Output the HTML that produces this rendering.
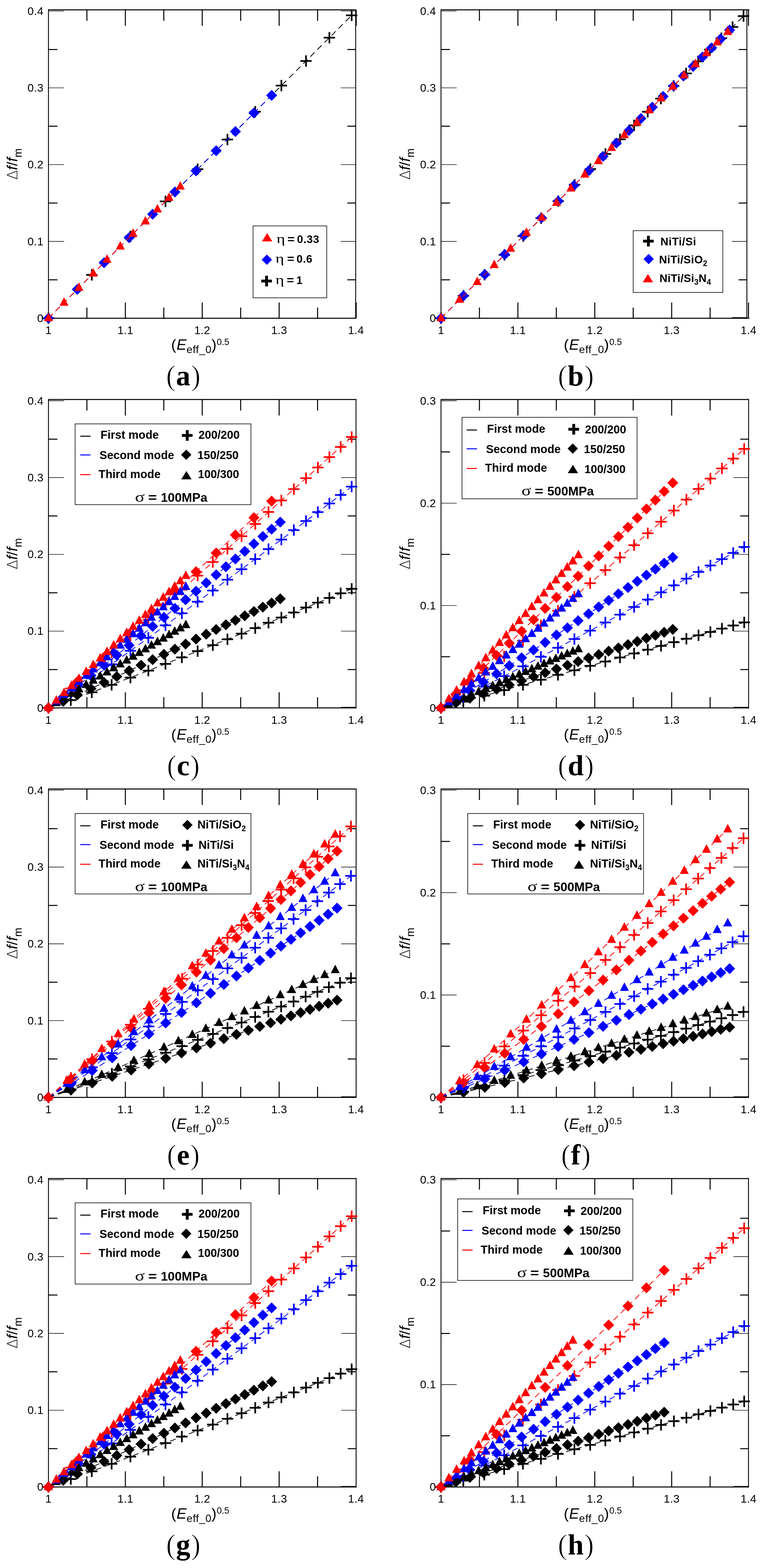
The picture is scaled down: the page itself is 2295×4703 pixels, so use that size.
<!DOCTYPE html><html><head><meta charset="utf-8"><title>Figure</title><style>
html,body{margin:0;padding:0;background:#fff;}svg{display:block;}
.tl{font-family:"Liberation Sans",Arial,sans-serif;font-size:33.6px;letter-spacing:0.4px;fill:#000;}
.at{font-family:"Liberation Sans",Arial,sans-serif;font-size:45px;fill:#000;}
.pl{font-family:"Liberation Serif","Times New Roman",serif;font-size:80px;fill:#000;}
.lg{font-family:"Liberation Sans",Arial,sans-serif;font-size:33px;font-weight:bold;fill:#000;}.lg2{font-size:34.2px;}
.gr{font-family:"Liberation Serif","DejaVu Serif",serif;font-weight:normal;}
</style></head><body>
<svg width="2295" height="4703" viewBox="0 0 2295 4703">
<rect width="2295" height="4703" fill="#fff"/>
<path d="M145.4 954.4H1068.3M145.4 29.4H1068.3" stroke="#000" stroke-width="3" fill="none"/>
<path d="M145.4 27.9V955.9M1067 27.9V955.9" stroke="#000" stroke-width="2.6" fill="none"/>
<path d="M376.1 954.4v-47M376.1 29.4v48M606.7 954.4v-47M606.7 29.4v48M837.4 954.4v-47M837.4 29.4v48M1068.5 954.4v-47M1068.5 29.4v48M260.7 954.4v-32M260.7 29.4v33M491.4 954.4v-32M491.4 29.4v33M722 954.4v-32M722 29.4v33M952.7 954.4v-32M952.7 29.4v33" stroke="#000" stroke-width="3" fill="none"/>
<path d="M145.4 954.4h47M145.4 724.1h47M145.4 493.8h47M145.4 263.5h47M145.4 33.2h47M1067 724.1h-45M1067 493.8h-45M1067 263.5h-45M1067 33.2h-45" stroke="#000" stroke-width="1.6" fill="none"/>
<path d="M145.4 839.2h27M145.4 608.9h27M145.4 378.6h27M145.4 148.4h27M1067 839.2h-25M1067 608.9h-25M1067 378.6h-25M1067 148.4h-25" stroke="#000" stroke-width="3" fill="none"/>
<g class="tl"><text x="145.4" y="1001.6" text-anchor="middle">1</text><text x="376.1" y="1001.6" text-anchor="middle">1.1</text><text x="606.7" y="1001.6" text-anchor="middle">1.2</text><text x="837.4" y="1001.6" text-anchor="middle">1.3</text><text x="1068" y="1001.6" text-anchor="middle">1.4</text><text x="130.5" y="965.8" text-anchor="end">0</text><text x="130.5" y="735.5" text-anchor="end">0.1</text><text x="130.5" y="505.2" text-anchor="end">0.2</text><text x="130.5" y="274.9" text-anchor="end">0.3</text><text x="130.5" y="44.6" text-anchor="end">0.4</text></g>
<text class="at" y="1049"><tspan x="513.6">(</tspan><tspan x="529.7" font-style="italic">E</tspan><tspan x="559.5" y="1059" font-size="32" letter-spacing="1.0">eff_0</tspan><tspan x="634.5" y="1049">)</tspan><tspan x="650.3" y="1034.6" font-size="27">0.5</tspan></text>
<text class="at" transform="translate(52.3 492) rotate(-90)" text-anchor="middle"><tspan font-family="DejaVu Sans" font-weight="200" font-size="42">&#916;</tspan><tspan font-style="italic">f</tspan>/<tspan font-style="italic">f</tspan><tspan font-size="33" dy="12.5">m</tspan></text>
<text class="pl" x="550" y="1156" text-anchor="middle"><tspan font-size="86" stroke="#fff" stroke-width="1.6">(</tspan><tspan font-weight="bold" font-size="86" dx="1">a</tspan><tspan font-size="86" dx="2" stroke="#fff" stroke-width="1.6">)</tspan></text>
<path d="M1323 954.4H2248M1323 29.4H2248" stroke="#000" stroke-width="3" fill="none"/>
<path d="M1323 27.9V955.9M2240.7 27.9V955.9" stroke="#000" stroke-width="2.6" fill="none"/>
<path d="M1553.7 954.4v-47M1553.7 29.4v48M1784.3 954.4v-47M1784.3 29.4v48M2015 954.4v-47M2015 29.4v48M2245.5 954.4v-47M2245.5 29.4v48M1438.3 954.4v-32M1438.3 29.4v33M1669 954.4v-32M1669 29.4v33M1899.6 954.4v-32M1899.6 29.4v33M2130.3 954.4v-32M2130.3 29.4v33" stroke="#000" stroke-width="3" fill="none"/>
<path d="M1323 954.4h47M1323 724.1h47M1323 493.8h47M1323 263.5h47M1323 33.2h47M2240.7 724.1h-45M2240.7 493.8h-45M2240.7 263.5h-45M2240.7 952.2h-45" stroke="#000" stroke-width="1.6" fill="none"/>
<path d="M1323 839.2h27M1323 608.9h27M1323 378.6h27M1323 148.4h27M2240.7 839.2h-25M2240.7 608.9h-25M2240.7 378.6h-25M2240.7 148.4h-25" stroke="#000" stroke-width="3" fill="none"/>
<g class="tl"><text x="1323" y="1001.6" text-anchor="middle">1</text><text x="1553.7" y="1001.6" text-anchor="middle">1.1</text><text x="1784.3" y="1001.6" text-anchor="middle">1.2</text><text x="2015" y="1001.6" text-anchor="middle">1.3</text><text x="2245.6" y="1001.6" text-anchor="middle">1.4</text><text x="1308.1" y="965.8" text-anchor="end">0</text><text x="1308.1" y="735.5" text-anchor="end">0.1</text><text x="1308.1" y="505.2" text-anchor="end">0.2</text><text x="1308.1" y="274.9" text-anchor="end">0.3</text><text x="1308.1" y="44.6" text-anchor="end">0.4</text></g>
<text class="at" y="1049"><tspan x="1691.2">(</tspan><tspan x="1707.3" font-style="italic">E</tspan><tspan x="1737.1" y="1059" font-size="32" letter-spacing="1.0">eff_0</tspan><tspan x="1812.1" y="1049">)</tspan><tspan x="1827.9" y="1034.6" font-size="27">0.5</tspan></text>
<text class="at" transform="translate(1229.9 492) rotate(-90)" text-anchor="middle"><tspan font-family="DejaVu Sans" font-weight="200" font-size="42">&#916;</tspan><tspan font-style="italic">f</tspan>/<tspan font-style="italic">f</tspan><tspan font-size="33" dy="12.5">m</tspan></text>
<text class="pl" x="1727.6" y="1156" text-anchor="middle"><tspan font-size="86" stroke="#fff" stroke-width="1.6">(</tspan><tspan font-weight="bold" font-size="86" dx="1">b</tspan><tspan font-size="86" dx="2" stroke="#fff" stroke-width="1.6">)</tspan></text>
<path d="M145.4 2123.3H1069.3M145.4 1198.3H1069.3" stroke="#000" stroke-width="3" fill="none"/>
<path d="M145.4 1196.8V2124.8M1068 1196.8V2124.8" stroke="#000" stroke-width="2.6" fill="none"/>
<path d="M376.1 2123.3v-47M376.1 1198.3v48M606.7 2123.3v-47M606.7 1198.3v48M837.4 2123.3v-47M837.4 1198.3v48M260.7 2123.3v-32M260.7 1198.3v33M491.4 2123.3v-32M491.4 1198.3v33M722 2123.3v-32M722 1198.3v33M952.7 2123.3v-32M952.7 1198.3v33" stroke="#000" stroke-width="3" fill="none"/>
<path d="M145.4 2123.3h47M145.4 1893h47M145.4 1662.7h47M145.4 1432.4h47M145.4 1202.1h47M1068 1893h-45M1068 1662.7h-45M1068 1432.4h-45M1068 2121.1h-45" stroke="#000" stroke-width="1.6" fill="none"/>
<path d="M145.4 2008.2h27M145.4 1777.9h27M145.4 1547.6h27M145.4 1317.3h27M1068 2008.2h-25M1068 1777.9h-25M1068 1547.6h-25M1068 1317.3h-25" stroke="#000" stroke-width="3" fill="none"/>
<g class="tl"><text x="145.4" y="2170.5" text-anchor="middle">1</text><text x="376.1" y="2170.5" text-anchor="middle">1.1</text><text x="606.7" y="2170.5" text-anchor="middle">1.2</text><text x="837.4" y="2170.5" text-anchor="middle">1.3</text><text x="1068" y="2170.5" text-anchor="middle">1.4</text><text x="130.5" y="2134.7" text-anchor="end">0</text><text x="130.5" y="1904.4" text-anchor="end">0.1</text><text x="130.5" y="1674.1" text-anchor="end">0.2</text><text x="130.5" y="1443.8" text-anchor="end">0.3</text><text x="130.5" y="1213.5" text-anchor="end">0.4</text></g>
<text class="at" y="2217.9"><tspan x="513.6">(</tspan><tspan x="529.7" font-style="italic">E</tspan><tspan x="559.5" y="2227.9" font-size="32" letter-spacing="1.0">eff_0</tspan><tspan x="634.5" y="2217.9">)</tspan><tspan x="650.3" y="2203.5" font-size="27">0.5</tspan></text>
<text class="at" transform="translate(52.3 1660.9) rotate(-90)" text-anchor="middle"><tspan font-family="DejaVu Sans" font-weight="200" font-size="42">&#916;</tspan><tspan font-style="italic">f</tspan>/<tspan font-style="italic">f</tspan><tspan font-size="33" dy="12.5">m</tspan></text>
<text class="pl" x="550" y="2324.9" text-anchor="middle"><tspan font-size="86" stroke="#fff" stroke-width="1.6">(</tspan><tspan font-weight="bold" font-size="86" dx="1">c</tspan><tspan font-size="86" dx="2" stroke="#fff" stroke-width="1.6">)</tspan></text>
<path d="M1323 2123.3H2247.1M1323 1198.3H2247.1" stroke="#000" stroke-width="3" fill="none"/>
<path d="M1323 1196.8V2124.8M2245.8 1196.8V2124.8" stroke="#000" stroke-width="2.6" fill="none"/>
<path d="M1553.7 2123.3v-47M1553.7 1198.3v48M1784.3 2123.3v-47M1784.3 1198.3v48M2015 2123.3v-47M2015 1198.3v48M1438.3 2123.3v-32M1438.3 1198.3v33M1669 2123.3v-32M1669 1198.3v33M1899.6 2123.3v-32M1899.6 1198.3v33M2130.3 2123.3v-32M2130.3 1198.3v33" stroke="#000" stroke-width="3" fill="none"/>
<path d="M1323 2123.3h47M1323 1816.2h47M1323 1509.2h47M1323 1202.1h47M2245.8 1893h-45M2245.8 1662.7h-45M2245.8 1432.4h-45M2245.8 2121.1h-45" stroke="#000" stroke-width="1.6" fill="none"/>
<path d="M1323 1969.8h27M1323 1662.7h27M1323 1355.6h27M2245.8 2008.2h-25M2245.8 1777.9h-25M2245.8 1547.6h-25M2245.8 1317.3h-25" stroke="#000" stroke-width="3" fill="none"/>
<g class="tl"><text x="1323" y="2170.5" text-anchor="middle">1</text><text x="1553.7" y="2170.5" text-anchor="middle">1.1</text><text x="1784.3" y="2170.5" text-anchor="middle">1.2</text><text x="2015" y="2170.5" text-anchor="middle">1.3</text><text x="2245.6" y="2170.5" text-anchor="middle">1.4</text><text x="1308.1" y="2134.7" text-anchor="end">0</text><text x="1308.1" y="1827.6" text-anchor="end">0.1</text><text x="1308.1" y="1520.6" text-anchor="end">0.2</text><text x="1308.1" y="1213.5" text-anchor="end">0.3</text></g>
<text class="at" y="2217.9"><tspan x="1691.2">(</tspan><tspan x="1707.3" font-style="italic">E</tspan><tspan x="1737.1" y="2227.9" font-size="32" letter-spacing="1.0">eff_0</tspan><tspan x="1812.1" y="2217.9">)</tspan><tspan x="1827.9" y="2203.5" font-size="27">0.5</tspan></text>
<text class="at" transform="translate(1229.9 1660.9) rotate(-90)" text-anchor="middle"><tspan font-family="DejaVu Sans" font-weight="200" font-size="42">&#916;</tspan><tspan font-style="italic">f</tspan>/<tspan font-style="italic">f</tspan><tspan font-size="33" dy="12.5">m</tspan></text>
<text class="pl" x="1727.6" y="2324.9" text-anchor="middle"><tspan font-size="86" stroke="#fff" stroke-width="1.6">(</tspan><tspan font-weight="bold" font-size="86" dx="1">d</tspan><tspan font-size="86" dx="2" stroke="#fff" stroke-width="1.6">)</tspan></text>
<path d="M145.4 3291.5H1069.6M145.4 2366.5H1069.6" stroke="#000" stroke-width="3" fill="none"/>
<path d="M145.4 2365V3293M1068.3 2365V3293" stroke="#000" stroke-width="2.6" fill="none"/>
<path d="M376.1 3291.5v-47M376.1 2366.5v48M606.7 3291.5v-47M606.7 2366.5v48M837.4 3291.5v-47M837.4 2366.5v48M260.7 3291.5v-32M260.7 2366.5v33M491.4 3291.5v-32M491.4 2366.5v33M722 3291.5v-32M722 2366.5v33M952.7 3291.5v-32M952.7 2366.5v33" stroke="#000" stroke-width="3" fill="none"/>
<path d="M145.4 3291.5h47M145.4 3061.2h47M145.4 2830.9h47M145.4 2600.6h47M145.4 2370.3h47M1068.3 3061.2h-45M1068.3 2830.9h-45M1068.3 2600.6h-45M1068.3 3289.3h-45" stroke="#000" stroke-width="1.6" fill="none"/>
<path d="M145.4 3176.3h27M145.4 2946.1h27M145.4 2715.8h27M145.4 2485.4h27M1068.3 3176.3h-25M1068.3 2946.1h-25M1068.3 2715.8h-25M1068.3 2485.4h-25" stroke="#000" stroke-width="3" fill="none"/>
<g class="tl"><text x="145.4" y="3338.7" text-anchor="middle">1</text><text x="376.1" y="3338.7" text-anchor="middle">1.1</text><text x="606.7" y="3338.7" text-anchor="middle">1.2</text><text x="837.4" y="3338.7" text-anchor="middle">1.3</text><text x="1068" y="3338.7" text-anchor="middle">1.4</text><text x="130.5" y="3302.9" text-anchor="end">0</text><text x="130.5" y="3072.6" text-anchor="end">0.1</text><text x="130.5" y="2842.3" text-anchor="end">0.2</text><text x="130.5" y="2612" text-anchor="end">0.3</text><text x="130.5" y="2381.7" text-anchor="end">0.4</text></g>
<text class="at" y="3386.1"><tspan x="513.6">(</tspan><tspan x="529.7" font-style="italic">E</tspan><tspan x="559.5" y="3396.1" font-size="32" letter-spacing="1.0">eff_0</tspan><tspan x="634.5" y="3386.1">)</tspan><tspan x="650.3" y="3371.7" font-size="27">0.5</tspan></text>
<text class="at" transform="translate(52.3 2829.1) rotate(-90)" text-anchor="middle"><tspan font-family="DejaVu Sans" font-weight="200" font-size="42">&#916;</tspan><tspan font-style="italic">f</tspan>/<tspan font-style="italic">f</tspan><tspan font-size="33" dy="12.5">m</tspan></text>
<text class="pl" x="550" y="3493.1" text-anchor="middle"><tspan font-size="86" stroke="#fff" stroke-width="1.6">(</tspan><tspan font-weight="bold" font-size="86" dx="1">e</tspan><tspan font-size="86" dx="2" stroke="#fff" stroke-width="1.6">)</tspan></text>
<path d="M1323 3291.5H2246.9M1323 2366.5H2246.9" stroke="#000" stroke-width="3" fill="none"/>
<path d="M1323 2365V3293M2245.6 2365V3293" stroke="#000" stroke-width="2.6" fill="none"/>
<path d="M1553.7 3291.5v-47M1553.7 2366.5v48M1784.3 3291.5v-47M1784.3 2366.5v48M2015 3291.5v-47M2015 2366.5v48M1438.3 3291.5v-32M1438.3 2366.5v33M1669 3291.5v-32M1669 2366.5v33M1899.6 3291.5v-32M1899.6 2366.5v33M2130.3 3291.5v-32M2130.3 2366.5v33" stroke="#000" stroke-width="3" fill="none"/>
<path d="M1323 3291.5h47M1323 2984.4h47M1323 2677.4h47M1323 2370.3h47M2245.6 3061.2h-45M2245.6 2830.9h-45M2245.6 2600.6h-45M2245.6 3289.3h-45" stroke="#000" stroke-width="1.6" fill="none"/>
<path d="M1323 3138h27M1323 2830.9h27M1323 2523.8h27M2245.6 3176.3h-25M2245.6 2946.1h-25M2245.6 2715.8h-25M2245.6 2485.4h-25" stroke="#000" stroke-width="3" fill="none"/>
<g class="tl"><text x="1323" y="3338.7" text-anchor="middle">1</text><text x="1553.7" y="3338.7" text-anchor="middle">1.1</text><text x="1784.3" y="3338.7" text-anchor="middle">1.2</text><text x="2015" y="3338.7" text-anchor="middle">1.3</text><text x="2245.6" y="3338.7" text-anchor="middle">1.4</text><text x="1308.1" y="3302.9" text-anchor="end">0</text><text x="1308.1" y="2995.8" text-anchor="end">0.1</text><text x="1308.1" y="2688.8" text-anchor="end">0.2</text><text x="1308.1" y="2381.7" text-anchor="end">0.3</text></g>
<text class="at" y="3386.1"><tspan x="1691.2">(</tspan><tspan x="1707.3" font-style="italic">E</tspan><tspan x="1737.1" y="3396.1" font-size="32" letter-spacing="1.0">eff_0</tspan><tspan x="1812.1" y="3386.1">)</tspan><tspan x="1827.9" y="3371.7" font-size="27">0.5</tspan></text>
<text class="at" transform="translate(1229.9 2829.1) rotate(-90)" text-anchor="middle"><tspan font-family="DejaVu Sans" font-weight="200" font-size="42">&#916;</tspan><tspan font-style="italic">f</tspan>/<tspan font-style="italic">f</tspan><tspan font-size="33" dy="12.5">m</tspan></text>
<text class="pl" x="1727.6" y="3493.1" text-anchor="middle"><tspan font-size="86" stroke="#fff" stroke-width="1.6">(</tspan><tspan font-weight="bold" font-size="86" dx="1">f</tspan><tspan font-size="86" dx="2" stroke="#fff" stroke-width="1.6">)</tspan></text>
<path d="M145.4 4460H1069.6M145.4 3535H1069.6" stroke="#000" stroke-width="3" fill="none"/>
<path d="M145.4 3533.5V4461.5M1068.3 3533.5V4461.5" stroke="#000" stroke-width="2.6" fill="none"/>
<path d="M376.1 4460v-47M376.1 3535v48M606.7 4460v-47M606.7 3535v48M837.4 4460v-47M837.4 3535v48M260.7 4460v-32M260.7 3535v33M491.4 4460v-32M491.4 3535v33M722 4460v-32M722 3535v33M952.7 4460v-32M952.7 3535v33" stroke="#000" stroke-width="3" fill="none"/>
<path d="M145.4 4460h47M145.4 4229.7h47M145.4 3999.4h47M145.4 3769.1h47M145.4 3538.8h47M1068.3 4229.7h-45M1068.3 3999.4h-45M1068.3 3769.1h-45M1068.3 4457.8h-45" stroke="#000" stroke-width="1.6" fill="none"/>
<path d="M145.4 4344.9h27M145.4 4114.6h27M145.4 3884.2h27M145.4 3653.9h27M1068.3 4344.9h-25M1068.3 4114.6h-25M1068.3 3884.2h-25M1068.3 3653.9h-25" stroke="#000" stroke-width="3" fill="none"/>
<g class="tl"><text x="145.4" y="4507.2" text-anchor="middle">1</text><text x="376.1" y="4507.2" text-anchor="middle">1.1</text><text x="606.7" y="4507.2" text-anchor="middle">1.2</text><text x="837.4" y="4507.2" text-anchor="middle">1.3</text><text x="1068" y="4507.2" text-anchor="middle">1.4</text><text x="130.5" y="4471.4" text-anchor="end">0</text><text x="130.5" y="4241.1" text-anchor="end">0.1</text><text x="130.5" y="4010.8" text-anchor="end">0.2</text><text x="130.5" y="3780.5" text-anchor="end">0.3</text><text x="130.5" y="3550.2" text-anchor="end">0.4</text></g>
<text class="at" y="4554.6"><tspan x="513.6">(</tspan><tspan x="529.7" font-style="italic">E</tspan><tspan x="559.5" y="4564.6" font-size="32" letter-spacing="1.0">eff_0</tspan><tspan x="634.5" y="4554.6">)</tspan><tspan x="650.3" y="4540.2" font-size="27">0.5</tspan></text>
<text class="at" transform="translate(52.3 3997.6) rotate(-90)" text-anchor="middle"><tspan font-family="DejaVu Sans" font-weight="200" font-size="42">&#916;</tspan><tspan font-style="italic">f</tspan>/<tspan font-style="italic">f</tspan><tspan font-size="33" dy="12.5">m</tspan></text>
<text class="pl" x="550" y="4661.6" text-anchor="middle"><tspan font-size="86" stroke="#fff" stroke-width="1.6">(</tspan><tspan font-weight="bold" font-size="86" dx="1">g</tspan><tspan font-size="86" dx="2" stroke="#fff" stroke-width="1.6">)</tspan></text>
<path d="M1323 4460H2246.7M1323 3535H2246.7" stroke="#000" stroke-width="3" fill="none"/>
<path d="M1323 3533.5V4461.5M2245.4 3533.5V4461.5" stroke="#000" stroke-width="2.6" fill="none"/>
<path d="M1553.7 4460v-47M1553.7 3535v48M1784.3 4460v-47M1784.3 3535v48M2015 4460v-47M2015 3535v48M1438.3 4460v-32M1438.3 3535v33M1669 4460v-32M1669 3535v33M1899.6 4460v-32M1899.6 3535v33M2130.3 4460v-32M2130.3 3535v33" stroke="#000" stroke-width="3" fill="none"/>
<path d="M1323 4460h47M1323 4152.9h47M1323 3845.9h47M1323 3538.8h47M2245.4 4229.7h-45M2245.4 3999.4h-45M2245.4 3769.1h-45M2245.4 4457.8h-45" stroke="#000" stroke-width="1.6" fill="none"/>
<path d="M1323 4306.5h27M1323 3999.4h27M1323 3692.3h27M2245.4 4344.9h-25M2245.4 4114.6h-25M2245.4 3884.2h-25M2245.4 3653.9h-25" stroke="#000" stroke-width="3" fill="none"/>
<g class="tl"><text x="1323" y="4507.2" text-anchor="middle">1</text><text x="1553.7" y="4507.2" text-anchor="middle">1.1</text><text x="1784.3" y="4507.2" text-anchor="middle">1.2</text><text x="2015" y="4507.2" text-anchor="middle">1.3</text><text x="2245.6" y="4507.2" text-anchor="middle">1.4</text><text x="1308.1" y="4471.4" text-anchor="end">0</text><text x="1308.1" y="4164.3" text-anchor="end">0.1</text><text x="1308.1" y="3857.3" text-anchor="end">0.2</text><text x="1308.1" y="3550.2" text-anchor="end">0.3</text></g>
<text class="at" y="4554.6"><tspan x="1691.2">(</tspan><tspan x="1707.3" font-style="italic">E</tspan><tspan x="1737.1" y="4564.6" font-size="32" letter-spacing="1.0">eff_0</tspan><tspan x="1812.1" y="4554.6">)</tspan><tspan x="1827.9" y="4540.2" font-size="27">0.5</tspan></text>
<text class="at" transform="translate(1229.9 3997.6) rotate(-90)" text-anchor="middle"><tspan font-family="DejaVu Sans" font-weight="200" font-size="42">&#916;</tspan><tspan font-style="italic">f</tspan>/<tspan font-style="italic">f</tspan><tspan font-size="33" dy="12.5">m</tspan></text>
<text class="pl" x="1727.6" y="4661.6" text-anchor="middle"><tspan font-size="86" stroke="#fff" stroke-width="1.6">(</tspan><tspan font-weight="bold" font-size="86" dx="1">h</tspan><tspan font-size="86" dx="2" stroke="#fff" stroke-width="1.6">)</tspan></text>
<path d="M145.4 954.4L275.4 824.6L391.3 708.9L496.4 603.9L592.9 507.6L682.3 418.4L765.7 335.1L844.1 256.8L918 182.9L988.2 112.9L1055 46.1" stroke="#000000" stroke-width="2.3" fill="none" stroke-dasharray="18 12"/>
<path d="M128.4 954.4h34M145.4 937.4v34M258.4 824.6h34M275.4 807.6v34M374.3 708.9h34M391.3 691.9v34M479.4 603.9h34M496.4 586.9v34M575.9 507.6h34M592.9 490.6v34M665.3 418.4h34M682.3 401.4v34M748.7 335.1h34M765.7 318.1v34M827.1 256.8h34M844.1 239.8v34M901 182.9h34M918 165.9v34M971.2 112.9h34M988.2 95.9v34M1038 46.1h34M1055 29.1v34" stroke="#000000" stroke-width="5" fill="none"/>
<path d="M145.4 954.4L231.9 868L312.2 787.9L387.3 712.9L457.9 642.4L524.7 575.7L588.1 512.4L648.5 452.1L706.3 394.4L761.7 339.1L814.9 285.9" stroke="#0000ff" stroke-width="2.3" fill="none" stroke-dasharray="18 12"/>
<path d="M145.4 937.9l16.5 16.5l-16.5 16.5l-16.5 -16.5zM231.9 851.5l16.5 16.5l-16.5 16.5l-16.5 -16.5zM312.2 771.4l16.5 16.5l-16.5 16.5l-16.5 -16.5zM387.3 696.4l16.5 16.5l-16.5 16.5l-16.5 -16.5zM457.9 625.9l16.5 16.5l-16.5 16.5l-16.5 -16.5zM524.7 559.2l16.5 16.5l-16.5 16.5l-16.5 -16.5zM588.1 495.9l16.5 16.5l-16.5 16.5l-16.5 -16.5zM648.5 435.6l16.5 16.5l-16.5 16.5l-16.5 -16.5zM706.3 377.9l16.5 16.5l-16.5 16.5l-16.5 -16.5zM761.7 322.6l16.5 16.5l-16.5 16.5l-16.5 -16.5zM814.9 269.4l16.5 16.5l-16.5 16.5l-16.5 -16.5z" fill="#0000ff"/>
<path d="M145.4 954.4L192.1 907.7L236.8 863.1L279.7 820.3L321 779.1L360.8 739.4L399.2 701L436.3 664L472.3 628L507.2 593.2L541 559.4" stroke="#ff0000" stroke-width="2.3" fill="none" stroke-dasharray="18 12"/>
<path d="M131.9 963.6h27L145.4 938.1zM178.6 917h27L192.1 891.5zM223.3 872.4h27L236.8 846.9zM266.2 829.5h27L279.7 804zM307.5 788.3h27L321 762.8zM347.3 748.6h27L360.8 723.1zM385.7 710.3h27L399.2 684.8zM422.8 673.2h27L436.3 647.7zM458.8 637.3h27L472.3 611.8zM493.7 602.4h27L507.2 576.9zM527.5 568.6h27L541 543.1z" fill="#ff0000"/>
<path d="M1323 954.4L1390.4 887.1L1453.6 824L1513.2 764.5L1569.7 708.1L1623.5 654.4L1674.8 603.2L1723.9 554.1L1771 507.1L1816.4 461.8L1860.1 418.1L1902.3 376L1943.1 335.2L1982.7 295.7L2021 257.4L2058.3 220.2L2094.5 184L2129.8 148.8L2164.2 114.5L2197.7 81L2230.5 48.3" stroke="#000000" stroke-width="2.3" fill="none" stroke-dasharray="18 12"/>
<path d="M1306 954.4h34M1323 937.4v34M1373.4 887.1h34M1390.4 870.1v34M1436.6 824h34M1453.6 807v34M1496.2 764.5h34M1513.2 747.5v34M1552.7 708.1h34M1569.7 691.1v34M1606.5 654.4h34M1623.5 637.4v34M1657.8 603.2h34M1674.8 586.2v34M1706.9 554.1h34M1723.9 537.1v34M1754 507.1h34M1771 490.1v34M1799.4 461.8h34M1816.4 444.8v34M1843.1 418.1h34M1860.1 401.1v34M1885.3 376h34M1902.3 359v34M1926.1 335.2h34M1943.1 318.2v34M1965.7 295.7h34M1982.7 278.7v34M2004 257.4h34M2021 240.4v34M2041.3 220.2h34M2058.3 203.2v34M2077.5 184h34M2094.5 167v34M2112.8 148.8h34M2129.8 131.8v34M2147.2 114.5h34M2164.2 97.5v34M2180.7 81h34M2197.7 64v34M2213.5 48.3h34M2230.5 31.3v34" stroke="#000000" stroke-width="5" fill="none"/>
<path d="M1323 954.4L1390.5 887L1454.3 823.3L1514.3 763.3L1571 706.8L1624.4 653.5L1674.7 603.2L1722.2 555.8L1766.9 511.2L1809.2 469L1849.1 429.1L1886.9 391.4L1922.7 355.6L1956.8 321.5L1989.4 289.1L2020.5 258L2050.4 228.1L2079.4 199.2L2107.5 171.1L2135 143.6L2162 116.6L2188.8 89.9" stroke="#0000ff" stroke-width="2.3" fill="none" stroke-dasharray="18 12"/>
<path d="M1323 937.9l16.5 16.5l-16.5 16.5l-16.5 -16.5zM1390.5 870.5l16.5 16.5l-16.5 16.5l-16.5 -16.5zM1454.3 806.8l16.5 16.5l-16.5 16.5l-16.5 -16.5zM1514.3 746.8l16.5 16.5l-16.5 16.5l-16.5 -16.5zM1571 690.3l16.5 16.5l-16.5 16.5l-16.5 -16.5zM1624.4 637l16.5 16.5l-16.5 16.5l-16.5 -16.5zM1674.7 586.7l16.5 16.5l-16.5 16.5l-16.5 -16.5zM1722.2 539.3l16.5 16.5l-16.5 16.5l-16.5 -16.5zM1766.9 494.7l16.5 16.5l-16.5 16.5l-16.5 -16.5zM1809.2 452.5l16.5 16.5l-16.5 16.5l-16.5 -16.5zM1849.1 412.6l16.5 16.5l-16.5 16.5l-16.5 -16.5zM1886.9 374.9l16.5 16.5l-16.5 16.5l-16.5 -16.5zM1922.7 339.1l16.5 16.5l-16.5 16.5l-16.5 -16.5zM1956.8 305l16.5 16.5l-16.5 16.5l-16.5 -16.5zM1989.4 272.6l16.5 16.5l-16.5 16.5l-16.5 -16.5zM2020.5 241.5l16.5 16.5l-16.5 16.5l-16.5 -16.5zM2050.4 211.6l16.5 16.5l-16.5 16.5l-16.5 -16.5zM2079.4 182.7l16.5 16.5l-16.5 16.5l-16.5 -16.5zM2107.5 154.6l16.5 16.5l-16.5 16.5l-16.5 -16.5zM2135 127.1l16.5 16.5l-16.5 16.5l-16.5 -16.5zM2162 100.1l16.5 16.5l-16.5 16.5l-16.5 -16.5zM2188.8 73.4l16.5 16.5l-16.5 16.5l-16.5 -16.5z" fill="#0000ff"/>
<path d="M1323 954.4L1378.5 899L1431.7 845.9L1482.8 794.9L1532 745.8L1579.4 698.4L1625.2 652.6L1669.6 608.3L1712.7 565.3L1754.5 523.6L1795.1 483L1834.7 443.5L1873.2 405L1910.8 367.5L1947.5 330.8L1983.4 295L2018.4 260L2052.8 225.7L2086.4 192.2L2119.3 159.3L2151.6 127.1L2183.3 95.4" stroke="#ff0000" stroke-width="2.3" fill="none" stroke-dasharray="18 12"/>
<path d="M1309.5 963.6h27L1323 938.1zM1365 908.2h27L1378.5 882.7zM1418.2 855.1h27L1431.7 829.6zM1469.3 804.1h27L1482.8 778.6zM1518.5 755h27L1532 729.5zM1565.9 707.6h27L1579.4 682.1zM1611.7 661.9h27L1625.2 636.4zM1656.1 617.5h27L1669.6 592zM1699.2 574.6h27L1712.7 549.1zM1741 532.8h27L1754.5 507.3zM1781.6 492.3h27L1795.1 466.8zM1821.2 452.8h27L1834.7 427.3zM1859.7 414.3h27L1873.2 388.8zM1897.3 376.7h27L1910.8 351.2zM1934 340.1h27L1947.5 314.6zM1969.9 304.3h27L1983.4 278.8zM2004.9 269.3h27L2018.4 243.8zM2039.3 235h27L2052.8 209.5zM2072.9 201.4h27L2086.4 175.9zM2105.8 168.6h27L2119.3 143.1zM2138.1 136.3h27L2151.6 110.8zM2169.8 104.7h27L2183.3 79.2z" fill="#ff0000"/>
<path d="M145.4 2123.3L212.4 2099.9L275.4 2076.5L334.9 2054L391.3 2032.3L445.1 2011.4L496.4 1991.2L545.6 1971.8L592.9 1953.1L638.4 1935L682.3 1917.4L724.7 1900.4L765.7 1883.9L805.5 1867.8L844.1 1852.2L881.6 1837L918 1822.1L953.6 1807.6L988.2 1793.5L1022 1779.6L1055 1766.1" stroke="#000000" stroke-width="2.3" fill="none" stroke-dasharray="18 12"/>
<path d="M128.4 2123.3h34M145.4 2106.3v34M195.4 2099.9h34M212.4 2082.9v34M258.4 2076.5h34M275.4 2059.5v34M317.9 2054h34M334.9 2037v34M374.3 2032.3h34M391.3 2015.3v34M428.1 2011.4h34M445.1 1994.4v34M479.4 1991.2h34M496.4 1974.2v34M528.6 1971.8h34M545.6 1954.8v34M575.9 1953.1h34M592.9 1936.1v34M621.4 1935h34M638.4 1918v34M665.3 1917.4h34M682.3 1900.4v34M707.7 1900.4h34M724.7 1883.4v34M748.7 1883.9h34M765.7 1866.9v34M788.5 1867.8h34M805.5 1850.8v34M827.1 1852.2h34M844.1 1835.2v34M864.6 1837h34M881.6 1820v34M901 1822.1h34M918 1805.1v34M936.6 1807.6h34M953.6 1790.6v34M971.2 1793.5h34M988.2 1776.5v34M1005 1779.6h34M1022 1762.6v34M1038 1766.1h34M1055 1749.1v34" stroke="#000000" stroke-width="5" fill="none"/>
<path d="M145.4 2123.3L212.4 2078.7L275.4 2034.7L334.9 1992.4L391.3 1951.9L445.1 1913L496.4 1875.6L545.6 1839.5L592.9 1804.8L638.4 1771.2L682.3 1738.7L724.7 1707.3L765.7 1676.7L805.5 1647.1L844.1 1618.2L881.6 1590.1L918 1562.7L953.6 1536L988.2 1510L1022 1484.5L1055 1459.6" stroke="#0000ff" stroke-width="2.3" fill="none" stroke-dasharray="18 12"/>
<path d="M128.4 2123.3h34M145.4 2106.3v34M195.4 2078.7h34M212.4 2061.7v34M258.4 2034.7h34M275.4 2017.7v34M317.9 1992.4h34M334.9 1975.4v34M374.3 1951.9h34M391.3 1934.9v34M428.1 1913h34M445.1 1896v34M479.4 1875.6h34M496.4 1858.6v34M528.6 1839.5h34M545.6 1822.5v34M575.9 1804.8h34M592.9 1787.8v34M621.4 1771.2h34M638.4 1754.2v34M665.3 1738.7h34M682.3 1721.7v34M707.7 1707.3h34M724.7 1690.3v34M748.7 1676.7h34M765.7 1659.7v34M788.5 1647.1h34M805.5 1630.1v34M827.1 1618.2h34M844.1 1601.2v34M864.6 1590.1h34M881.6 1573.1v34M901 1562.7h34M918 1545.7v34M936.6 1536h34M953.6 1519v34M971.2 1510h34M988.2 1493v34M1005 1484.5h34M1022 1467.5v34M1038 1459.6h34M1055 1442.6v34" stroke="#0000ff" stroke-width="5" fill="none"/>
<path d="M145.4 2123.3L212.4 2065L275.4 2009.4L334.9 1956.7L391.3 1906.5L445.1 1858.6L496.4 1812.7L545.6 1768.7L592.9 1726.4L638.4 1685.7L682.3 1646.3L724.7 1608.2L765.7 1571.4L805.5 1535.6L844.1 1500.9L881.6 1467.1L918 1434.3L953.6 1402.3L988.2 1371L1022 1340.6L1055 1310.8" stroke="#ff0000" stroke-width="2.3" fill="none" stroke-dasharray="18 12"/>
<path d="M128.4 2123.3h34M145.4 2106.3v34M195.4 2065h34M212.4 2048v34M258.4 2009.4h34M275.4 1992.4v34M317.9 1956.7h34M334.9 1939.7v34M374.3 1906.5h34M391.3 1889.5v34M428.1 1858.6h34M445.1 1841.6v34M479.4 1812.7h34M496.4 1795.7v34M528.6 1768.7h34M545.6 1751.7v34M575.9 1726.4h34M592.9 1709.4v34M621.4 1685.7h34M638.4 1668.7v34M665.3 1646.3h34M682.3 1629.3v34M707.7 1608.2h34M724.7 1591.2v34M748.7 1571.4h34M765.7 1554.4v34M788.5 1535.6h34M805.5 1518.6v34M827.1 1500.9h34M844.1 1483.9v34M864.6 1467.1h34M881.6 1450.1v34M901 1434.3h34M918 1417.3v34M936.6 1402.3h34M953.6 1385.3v34M971.2 1371h34M988.2 1354v34M1005 1340.6h34M1022 1323.6v34M1038 1310.8h34M1055 1293.8v34" stroke="#ff0000" stroke-width="5" fill="none"/>
<path d="M145.4 2123.3L189.5 2103.7L231.9 2084.3L272.8 2065.4L312.2 2047L350.3 2029.2L387.3 2011.8L423.1 1995L457.9 1978.6L491.7 1962.6L524.7 1946.9L556.8 1931.7L588.1 1916.8L618.6 1902.3L648.5 1888L677.7 1874.1L706.3 1860.5L734.2 1847.1L761.7 1834L788.5 1821.1L814.9 1808.5L840.7 1796" stroke="#000000" stroke-width="2.3" fill="none" stroke-dasharray="18 12"/>
<path d="M145.4 2106.8l16.5 16.5l-16.5 16.5l-16.5 -16.5zM189.5 2087.2l16.5 16.5l-16.5 16.5l-16.5 -16.5zM231.9 2067.8l16.5 16.5l-16.5 16.5l-16.5 -16.5zM272.8 2048.9l16.5 16.5l-16.5 16.5l-16.5 -16.5zM312.2 2030.5l16.5 16.5l-16.5 16.5l-16.5 -16.5zM350.3 2012.7l16.5 16.5l-16.5 16.5l-16.5 -16.5zM387.3 1995.3l16.5 16.5l-16.5 16.5l-16.5 -16.5zM423.1 1978.5l16.5 16.5l-16.5 16.5l-16.5 -16.5zM457.9 1962.1l16.5 16.5l-16.5 16.5l-16.5 -16.5zM491.7 1946.1l16.5 16.5l-16.5 16.5l-16.5 -16.5zM524.7 1930.4l16.5 16.5l-16.5 16.5l-16.5 -16.5zM556.8 1915.2l16.5 16.5l-16.5 16.5l-16.5 -16.5zM588.1 1900.3l16.5 16.5l-16.5 16.5l-16.5 -16.5zM618.6 1885.8l16.5 16.5l-16.5 16.5l-16.5 -16.5zM648.5 1871.5l16.5 16.5l-16.5 16.5l-16.5 -16.5zM677.7 1857.6l16.5 16.5l-16.5 16.5l-16.5 -16.5zM706.3 1844l16.5 16.5l-16.5 16.5l-16.5 -16.5zM734.2 1830.6l16.5 16.5l-16.5 16.5l-16.5 -16.5zM761.7 1817.5l16.5 16.5l-16.5 16.5l-16.5 -16.5zM788.5 1804.6l16.5 16.5l-16.5 16.5l-16.5 -16.5zM814.9 1792l16.5 16.5l-16.5 16.5l-16.5 -16.5zM840.7 1779.5l16.5 16.5l-16.5 16.5l-16.5 -16.5z" fill="#000000"/>
<path d="M145.4 2123.3L189.5 2090.8L231.9 2058.2L272.8 2026.3L312.2 1995.2L350.3 1965L387.3 1935.5L423.1 1906.8L457.9 1878.8L491.7 1851.5L524.7 1824.8L556.8 1798.7L588.1 1773.3L618.6 1748.3L648.5 1724L677.7 1700.1L706.3 1676.6L734.2 1653.7L761.7 1631.2L788.5 1609L814.9 1587.3L840.7 1566" stroke="#0000ff" stroke-width="2.3" fill="none" stroke-dasharray="18 12"/>
<path d="M145.4 2106.8l16.5 16.5l-16.5 16.5l-16.5 -16.5zM189.5 2074.3l16.5 16.5l-16.5 16.5l-16.5 -16.5zM231.9 2041.7l16.5 16.5l-16.5 16.5l-16.5 -16.5zM272.8 2009.8l16.5 16.5l-16.5 16.5l-16.5 -16.5zM312.2 1978.7l16.5 16.5l-16.5 16.5l-16.5 -16.5zM350.3 1948.5l16.5 16.5l-16.5 16.5l-16.5 -16.5zM387.3 1919l16.5 16.5l-16.5 16.5l-16.5 -16.5zM423.1 1890.3l16.5 16.5l-16.5 16.5l-16.5 -16.5zM457.9 1862.3l16.5 16.5l-16.5 16.5l-16.5 -16.5zM491.7 1835l16.5 16.5l-16.5 16.5l-16.5 -16.5zM524.7 1808.3l16.5 16.5l-16.5 16.5l-16.5 -16.5zM556.8 1782.2l16.5 16.5l-16.5 16.5l-16.5 -16.5zM588.1 1756.8l16.5 16.5l-16.5 16.5l-16.5 -16.5zM618.6 1731.8l16.5 16.5l-16.5 16.5l-16.5 -16.5zM648.5 1707.5l16.5 16.5l-16.5 16.5l-16.5 -16.5zM677.7 1683.6l16.5 16.5l-16.5 16.5l-16.5 -16.5zM706.3 1660.1l16.5 16.5l-16.5 16.5l-16.5 -16.5zM734.2 1637.2l16.5 16.5l-16.5 16.5l-16.5 -16.5zM761.7 1614.7l16.5 16.5l-16.5 16.5l-16.5 -16.5zM788.5 1592.5l16.5 16.5l-16.5 16.5l-16.5 -16.5zM814.9 1570.8l16.5 16.5l-16.5 16.5l-16.5 -16.5zM840.7 1549.5l16.5 16.5l-16.5 16.5l-16.5 -16.5z" fill="#0000ff"/>
<path d="M145.4 2123.3L231.9 2044.8L312.2 1970.9L387.3 1901.4L457.9 1835.9L524.7 1773.8L588.1 1714.7L648.5 1658.4L706.3 1604.4L761.7 1552.7L814.9 1502.9" stroke="#ff0000" stroke-width="2.3" fill="none" stroke-dasharray="18 12"/>
<path d="M145.4 2106.8l16.5 16.5l-16.5 16.5l-16.5 -16.5zM231.9 2028.3l16.5 16.5l-16.5 16.5l-16.5 -16.5zM312.2 1954.4l16.5 16.5l-16.5 16.5l-16.5 -16.5zM387.3 1884.9l16.5 16.5l-16.5 16.5l-16.5 -16.5zM457.9 1819.4l16.5 16.5l-16.5 16.5l-16.5 -16.5zM524.7 1757.3l16.5 16.5l-16.5 16.5l-16.5 -16.5zM588.1 1698.2l16.5 16.5l-16.5 16.5l-16.5 -16.5zM648.5 1641.9l16.5 16.5l-16.5 16.5l-16.5 -16.5zM706.3 1587.9l16.5 16.5l-16.5 16.5l-16.5 -16.5zM761.7 1536.2l16.5 16.5l-16.5 16.5l-16.5 -16.5zM814.9 1486.4l16.5 16.5l-16.5 16.5l-16.5 -16.5z" fill="#ff0000"/>
<path d="M145.4 2123.3L169 2108.6L192.1 2094.5L214.7 2080.7L236.8 2067.3L258.5 2054.2L279.7 2041.3L300.6 2028.8L321 2016.5L341.1 2004.4L360.8 1992.5L380.1 1980.9L399.2 1969.5L417.9 1958.2L436.3 1947.2L454.4 1936.3L472.3 1925.7L489.8 1915.1L507.2 1904.8L524.2 1894.6L541 1884.5L557.6 1874.6" stroke="#000000" stroke-width="2.3" fill="none" stroke-dasharray="18 12"/>
<path d="M131.9 2132.6h27L145.4 2107.1zM155.5 2117.9h27L169 2092.4zM178.6 2103.7h27L192.1 2078.2zM201.2 2090h27L214.7 2064.5zM223.3 2076.6h27L236.8 2051.1zM245 2063.4h27L258.5 2037.9zM266.2 2050.6h27L279.7 2025.1zM287.1 2038h27L300.6 2012.5zM307.5 2025.7h27L321 2000.2zM327.6 2013.6h27L341.1 1988.1zM347.3 2001.8h27L360.8 1976.3zM366.6 1990.2h27L380.1 1964.7zM385.7 1978.7h27L399.2 1953.2zM404.4 1967.5h27L417.9 1942zM422.8 1956.5h27L436.3 1931zM440.9 1945.6h27L454.4 1920.1zM458.8 1934.9h27L472.3 1909.4zM476.3 1924.4h27L489.8 1898.9zM493.7 1914h27L507.2 1888.5zM510.7 1903.8h27L524.2 1878.3zM527.5 1893.8h27L541 1868.3zM544.1 1883.9h27L557.6 1858.4z" fill="#000000"/>
<path d="M145.4 2123.3L169 2103.7L192.1 2083.9L214.7 2064.4L236.8 2045.2L258.5 2026.3L279.7 2007.7L300.6 1989.3L321 1971.3L341.1 1953.6L360.8 1936.1L380.1 1919L399.2 1902.1L417.9 1885.4L436.3 1869L454.4 1852.8L472.3 1836.9L489.8 1821.2L507.2 1805.7L524.2 1790.4L541 1775.3L557.6 1760.4" stroke="#0000ff" stroke-width="2.3" fill="none" stroke-dasharray="18 12"/>
<path d="M131.9 2132.6h27L145.4 2107.1zM155.5 2112.9h27L169 2087.4zM178.6 2093.2h27L192.1 2067.7zM201.2 2073.7h27L214.7 2048.2zM223.3 2054.4h27L236.8 2028.9zM245 2035.5h27L258.5 2010zM266.2 2016.9h27L279.7 1991.4zM287.1 1998.6h27L300.6 1973.1zM307.5 1980.6h27L321 1955.1zM327.6 1962.8h27L341.1 1937.3zM347.3 1945.4h27L360.8 1919.9zM366.6 1928.2h27L380.1 1902.7zM385.7 1911.3h27L399.2 1885.8zM404.4 1894.7h27L417.9 1869.2zM422.8 1878.2h27L436.3 1852.7zM440.9 1862.1h27L454.4 1836.6zM458.8 1846.1h27L472.3 1820.6zM476.3 1830.4h27L489.8 1804.9zM493.7 1814.9h27L507.2 1789.4zM510.7 1799.6h27L524.2 1774.1zM527.5 1784.5h27L541 1759zM544.1 1769.6h27L557.6 1744.1z" fill="#0000ff"/>
<path d="M145.4 2123.3L169 2100.9L192.1 2078.9L214.7 2057.3L236.8 2036.1L258.5 2015.3L279.7 1994.9L300.6 1974.9L321 1955.2L341.1 1935.9L360.8 1916.9L380.1 1898.3L399.2 1879.9L417.9 1861.9L436.3 1844.1L454.4 1826.7L472.3 1809.4L489.8 1792.5L507.2 1775.8L524.2 1759.3L541 1743L557.6 1727" stroke="#ff0000" stroke-width="2.3" fill="none" stroke-dasharray="18 12"/>
<path d="M131.9 2132.6h27L145.4 2107.1zM155.5 2110.2h27L169 2084.7zM178.6 2088.1h27L192.1 2062.6zM201.2 2066.5h27L214.7 2041zM223.3 2045.3h27L236.8 2019.8zM245 2024.5h27L258.5 1999zM266.2 2004.1h27L279.7 1978.6zM287.1 1984.1h27L300.6 1958.6zM307.5 1964.5h27L321 1939zM327.6 1945.1h27L341.1 1919.6zM347.3 1926.2h27L360.8 1900.7zM366.6 1907.5h27L380.1 1882zM385.7 1889.2h27L399.2 1863.7zM404.4 1871.1h27L417.9 1845.6zM422.8 1853.4h27L436.3 1827.9zM440.9 1835.9h27L454.4 1810.4zM458.8 1818.7h27L472.3 1793.2zM476.3 1801.7h27L489.8 1776.2zM493.7 1785h27L507.2 1759.5zM510.7 1768.5h27L524.2 1743zM527.5 1752.3h27L541 1726.8zM544.1 1736.2h27L557.6 1710.7z" fill="#ff0000"/>
<path d="M1323 2123.3L1390 2104.4L1453 2086.7L1512.5 2069.9L1568.9 2054L1622.7 2038.8L1674 2024.3L1723.2 2010.4L1770.5 1997.1L1816 1984.3L1859.9 1971.9L1902.3 1960L1943.3 1948.4L1983.1 1937.2L2021.7 1926.3L2059.2 1915.7L2095.6 1905.4L2131.2 1895.4L2165.8 1885.6L2199.6 1876.1L2232.6 1866.8" stroke="#000000" stroke-width="2.3" fill="none" stroke-dasharray="18 12"/>
<path d="M1306 2123.3h34M1323 2106.3v34M1373 2104.4h34M1390 2087.4v34M1436 2086.7h34M1453 2069.7v34M1495.5 2069.9h34M1512.5 2052.9v34M1551.9 2054h34M1568.9 2037v34M1605.7 2038.8h34M1622.7 2021.8v34M1657 2024.3h34M1674 2007.3v34M1706.2 2010.4h34M1723.2 1993.4v34M1753.5 1997.1h34M1770.5 1980.1v34M1799 1984.3h34M1816 1967.3v34M1842.9 1971.9h34M1859.9 1954.9v34M1885.3 1960h34M1902.3 1943v34M1926.3 1948.4h34M1943.3 1931.4v34M1966.1 1937.2h34M1983.1 1920.2v34M2004.7 1926.3h34M2021.7 1909.3v34M2042.2 1915.7h34M2059.2 1898.7v34M2078.6 1905.4h34M2095.6 1888.4v34M2114.2 1895.4h34M2131.2 1878.4v34M2148.8 1885.6h34M2165.8 1868.6v34M2182.6 1876.1h34M2199.6 1859.1v34M2215.6 1866.8h34M2232.6 1849.8v34" stroke="#000000" stroke-width="5" fill="none"/>
<path d="M1323 2123.3L1390 2090.8L1453 2058.7L1512.5 2028L1568.9 1998.5L1622.7 1970.1L1674 1942.9L1723.2 1916.7L1770.5 1891.5L1816 1867L1859.9 1843.4L1902.3 1820.5L1943.3 1798.3L1983.1 1776.8L2021.7 1755.8L2059.2 1735.4L2095.6 1715.5L2131.2 1696.1L2165.8 1677.1L2199.6 1658.6L2232.6 1640.5" stroke="#0000ff" stroke-width="2.3" fill="none" stroke-dasharray="18 12"/>
<path d="M1306 2123.3h34M1323 2106.3v34M1373 2090.8h34M1390 2073.8v34M1436 2058.7h34M1453 2041.7v34M1495.5 2028h34M1512.5 2011v34M1551.9 1998.5h34M1568.9 1981.5v34M1605.7 1970.1h34M1622.7 1953.1v34M1657 1942.9h34M1674 1925.9v34M1706.2 1916.7h34M1723.2 1899.7v34M1753.5 1891.5h34M1770.5 1874.5v34M1799 1867h34M1816 1850v34M1842.9 1843.4h34M1859.9 1826.4v34M1885.3 1820.5h34M1902.3 1803.5v34M1926.3 1798.3h34M1943.3 1781.3v34M1966.1 1776.8h34M1983.1 1759.8v34M2004.7 1755.8h34M2021.7 1738.8v34M2042.2 1735.4h34M2059.2 1718.4v34M2078.6 1715.5h34M2095.6 1698.5v34M2114.2 1696.1h34M2131.2 1679.1v34M2148.8 1677.1h34M2165.8 1660.1v34M2182.6 1658.6h34M2199.6 1641.6v34M2215.6 1640.5h34M2232.6 1623.5v34" stroke="#0000ff" stroke-width="5" fill="none"/>
<path d="M1323 2123.3L1390 2070.4L1453 2018.6L1512.5 1968.9L1568.9 1921.4L1622.7 1875.8L1674 1831.9L1723.2 1789.8L1770.5 1749.2L1816 1709.9L1859.9 1672L1902.3 1635.2L1943.3 1599.6L1983.1 1565L2021.7 1531.3L2059.2 1498.6L2095.6 1466.6L2131.2 1435.5L2165.8 1405.1L2199.6 1375.4L2232.6 1346.4" stroke="#ff0000" stroke-width="2.3" fill="none" stroke-dasharray="18 12"/>
<path d="M1306 2123.3h34M1323 2106.3v34M1373 2070.4h34M1390 2053.4v34M1436 2018.6h34M1453 2001.6v34M1495.5 1968.9h34M1512.5 1951.9v34M1551.9 1921.4h34M1568.9 1904.4v34M1605.7 1875.8h34M1622.7 1858.8v34M1657 1831.9h34M1674 1814.9v34M1706.2 1789.8h34M1723.2 1772.8v34M1753.5 1749.2h34M1770.5 1732.2v34M1799 1709.9h34M1816 1692.9v34M1842.9 1672h34M1859.9 1655v34M1885.3 1635.2h34M1902.3 1618.2v34M1926.3 1599.6h34M1943.3 1582.6v34M1966.1 1565h34M1983.1 1548v34M2004.7 1531.3h34M2021.7 1514.3v34M2042.2 1498.6h34M2059.2 1481.6v34M2078.6 1466.6h34M2095.6 1449.6v34M2114.2 1435.5h34M2131.2 1418.5v34M2148.8 1405.1h34M2165.8 1388.1v34M2182.6 1375.4h34M2199.6 1358.4v34M2215.6 1346.4h34M2232.6 1329.4v34" stroke="#ff0000" stroke-width="5" fill="none"/>
<path d="M1323 2123.3L1367.1 2108.6L1409.5 2094.3L1450.4 2080.5L1489.8 2067.2L1527.9 2054.3L1564.9 2041.8L1600.7 2029.6L1635.5 2017.8L1669.3 2006.4L1702.3 1995.2L1734.4 1984.3L1765.7 1973.6L1796.2 1963.3L1826.1 1953.1L1855.3 1943.2L1883.9 1933.5L1911.8 1923.9L1939.3 1914.6L1966.1 1905.5L1992.5 1896.5L2018.3 1887.7" stroke="#000000" stroke-width="2.3" fill="none" stroke-dasharray="18 12"/>
<path d="M1323 2106.8l16.5 16.5l-16.5 16.5l-16.5 -16.5zM1367.1 2092.1l16.5 16.5l-16.5 16.5l-16.5 -16.5zM1409.5 2077.8l16.5 16.5l-16.5 16.5l-16.5 -16.5zM1450.4 2064l16.5 16.5l-16.5 16.5l-16.5 -16.5zM1489.8 2050.7l16.5 16.5l-16.5 16.5l-16.5 -16.5zM1527.9 2037.8l16.5 16.5l-16.5 16.5l-16.5 -16.5zM1564.9 2025.3l16.5 16.5l-16.5 16.5l-16.5 -16.5zM1600.7 2013.1l16.5 16.5l-16.5 16.5l-16.5 -16.5zM1635.5 2001.3l16.5 16.5l-16.5 16.5l-16.5 -16.5zM1669.3 1989.9l16.5 16.5l-16.5 16.5l-16.5 -16.5zM1702.3 1978.7l16.5 16.5l-16.5 16.5l-16.5 -16.5zM1734.4 1967.8l16.5 16.5l-16.5 16.5l-16.5 -16.5zM1765.7 1957.1l16.5 16.5l-16.5 16.5l-16.5 -16.5zM1796.2 1946.8l16.5 16.5l-16.5 16.5l-16.5 -16.5zM1826.1 1936.6l16.5 16.5l-16.5 16.5l-16.5 -16.5zM1855.3 1926.7l16.5 16.5l-16.5 16.5l-16.5 -16.5zM1883.9 1917l16.5 16.5l-16.5 16.5l-16.5 -16.5zM1911.8 1907.4l16.5 16.5l-16.5 16.5l-16.5 -16.5zM1939.3 1898.1l16.5 16.5l-16.5 16.5l-16.5 -16.5zM1966.1 1889l16.5 16.5l-16.5 16.5l-16.5 -16.5zM1992.5 1880l16.5 16.5l-16.5 16.5l-16.5 -16.5zM2018.3 1871.2l16.5 16.5l-16.5 16.5l-16.5 -16.5z" fill="#000000"/>
<path d="M1323 2123.3L1367.1 2097.6L1409.5 2071.6L1450.4 2046L1489.8 2021L1527.9 1996.6L1564.9 1972.7L1600.7 1949.4L1635.5 1926.7L1669.3 1904.6L1702.3 1882.9L1734.4 1861.7L1765.7 1840.9L1796.2 1820.6L1826.1 1800.8L1855.3 1781.3L1883.9 1762.2L1911.8 1743.4L1939.3 1725L1966.1 1706.9L1992.5 1689.2L2018.3 1671.7" stroke="#0000ff" stroke-width="2.3" fill="none" stroke-dasharray="18 12"/>
<path d="M1323 2106.8l16.5 16.5l-16.5 16.5l-16.5 -16.5zM1367.1 2081.1l16.5 16.5l-16.5 16.5l-16.5 -16.5zM1409.5 2055.1l16.5 16.5l-16.5 16.5l-16.5 -16.5zM1450.4 2029.5l16.5 16.5l-16.5 16.5l-16.5 -16.5zM1489.8 2004.5l16.5 16.5l-16.5 16.5l-16.5 -16.5zM1527.9 1980.1l16.5 16.5l-16.5 16.5l-16.5 -16.5zM1564.9 1956.2l16.5 16.5l-16.5 16.5l-16.5 -16.5zM1600.7 1932.9l16.5 16.5l-16.5 16.5l-16.5 -16.5zM1635.5 1910.2l16.5 16.5l-16.5 16.5l-16.5 -16.5zM1669.3 1888.1l16.5 16.5l-16.5 16.5l-16.5 -16.5zM1702.3 1866.4l16.5 16.5l-16.5 16.5l-16.5 -16.5zM1734.4 1845.2l16.5 16.5l-16.5 16.5l-16.5 -16.5zM1765.7 1824.4l16.5 16.5l-16.5 16.5l-16.5 -16.5zM1796.2 1804.1l16.5 16.5l-16.5 16.5l-16.5 -16.5zM1826.1 1784.3l16.5 16.5l-16.5 16.5l-16.5 -16.5zM1855.3 1764.8l16.5 16.5l-16.5 16.5l-16.5 -16.5zM1883.9 1745.7l16.5 16.5l-16.5 16.5l-16.5 -16.5zM1911.8 1726.9l16.5 16.5l-16.5 16.5l-16.5 -16.5zM1939.3 1708.5l16.5 16.5l-16.5 16.5l-16.5 -16.5zM1966.1 1690.4l16.5 16.5l-16.5 16.5l-16.5 -16.5zM1992.5 1672.7l16.5 16.5l-16.5 16.5l-16.5 -16.5zM2018.3 1655.2l16.5 16.5l-16.5 16.5l-16.5 -16.5z" fill="#0000ff"/>
<path d="M1323 2123.3L1367.1 2082.8L1409.5 2042.8L1450.4 2003.8L1489.8 1965.9L1527.9 1929.2L1564.9 1893.4L1600.7 1858.6L1635.5 1824.8L1669.3 1791.8L1702.3 1759.6L1734.4 1728.1L1765.7 1697.4L1796.2 1667.4L1826.1 1638.1L1855.3 1609.3L1883.9 1581.2L1911.8 1553.6L1939.3 1526.5L1966.1 1500L1992.5 1473.9L2018.3 1448.3" stroke="#ff0000" stroke-width="2.3" fill="none" stroke-dasharray="18 12"/>
<path d="M1323 2106.8l16.5 16.5l-16.5 16.5l-16.5 -16.5zM1367.1 2066.3l16.5 16.5l-16.5 16.5l-16.5 -16.5zM1409.5 2026.3l16.5 16.5l-16.5 16.5l-16.5 -16.5zM1450.4 1987.3l16.5 16.5l-16.5 16.5l-16.5 -16.5zM1489.8 1949.4l16.5 16.5l-16.5 16.5l-16.5 -16.5zM1527.9 1912.7l16.5 16.5l-16.5 16.5l-16.5 -16.5zM1564.9 1876.9l16.5 16.5l-16.5 16.5l-16.5 -16.5zM1600.7 1842.1l16.5 16.5l-16.5 16.5l-16.5 -16.5zM1635.5 1808.3l16.5 16.5l-16.5 16.5l-16.5 -16.5zM1669.3 1775.3l16.5 16.5l-16.5 16.5l-16.5 -16.5zM1702.3 1743.1l16.5 16.5l-16.5 16.5l-16.5 -16.5zM1734.4 1711.6l16.5 16.5l-16.5 16.5l-16.5 -16.5zM1765.7 1680.9l16.5 16.5l-16.5 16.5l-16.5 -16.5zM1796.2 1650.9l16.5 16.5l-16.5 16.5l-16.5 -16.5zM1826.1 1621.6l16.5 16.5l-16.5 16.5l-16.5 -16.5zM1855.3 1592.8l16.5 16.5l-16.5 16.5l-16.5 -16.5zM1883.9 1564.7l16.5 16.5l-16.5 16.5l-16.5 -16.5zM1911.8 1537.1l16.5 16.5l-16.5 16.5l-16.5 -16.5zM1939.3 1510l16.5 16.5l-16.5 16.5l-16.5 -16.5zM1966.1 1483.5l16.5 16.5l-16.5 16.5l-16.5 -16.5zM1992.5 1457.4l16.5 16.5l-16.5 16.5l-16.5 -16.5zM2018.3 1431.8l16.5 16.5l-16.5 16.5l-16.5 -16.5z" fill="#ff0000"/>
<path d="M1323 2123.3L1346.6 2113.3L1369.7 2103.6L1392.3 2094L1414.4 2084.5L1436.1 2075.3L1457.3 2066.2L1478.2 2057.3L1498.6 2048.6L1518.7 2040L1538.4 2031.6L1557.7 2023.3L1576.8 2015.2L1595.5 2007.1L1613.9 1999.2L1632 1991.5L1649.9 1983.8L1667.4 1976.3L1684.8 1968.9L1701.8 1961.5L1718.6 1954.3L1735.2 1947.2" stroke="#000000" stroke-width="2.3" fill="none" stroke-dasharray="18 12"/>
<path d="M1309.5 2132.6h27L1323 2107.1zM1333.1 2122.6h27L1346.6 2097.1zM1356.2 2112.8h27L1369.7 2087.3zM1378.8 2103.2h27L1392.3 2077.7zM1400.9 2093.8h27L1414.4 2068.3zM1422.6 2084.5h27L1436.1 2059zM1443.8 2075.5h27L1457.3 2050zM1464.7 2066.6h27L1478.2 2041.1zM1485.1 2057.9h27L1498.6 2032.4zM1505.2 2049.3h27L1518.7 2023.8zM1524.9 2040.8h27L1538.4 2015.3zM1544.2 2032.6h27L1557.7 2007.1zM1563.3 2024.4h27L1576.8 1998.9zM1582 2016.4h27L1595.5 1990.9zM1600.4 2008.5h27L1613.9 1983zM1618.5 2000.7h27L1632 1975.2zM1636.4 1993.1h27L1649.9 1967.6zM1653.9 1985.5h27L1667.4 1960zM1671.3 1978.1h27L1684.8 1952.6zM1688.3 1970.8h27L1701.8 1945.3zM1705.1 1963.6h27L1718.6 1938.1zM1721.7 1956.4h27L1735.2 1930.9z" fill="#000000"/>
<path d="M1323 2123.3L1346.6 2105.8L1369.7 2087.8L1392.3 2069.8L1414.4 2052L1436.1 2034.3L1457.3 2016.9L1478.2 1999.6L1498.6 1982.7L1518.7 1965.9L1538.4 1949.4L1557.7 1933.1L1576.8 1917.1L1595.5 1901.2L1613.9 1885.6L1632 1870.2L1649.9 1854.9L1667.4 1839.9L1684.8 1825.1L1701.8 1810.4L1718.6 1796L1735.2 1781.7" stroke="#0000ff" stroke-width="2.3" fill="none" stroke-dasharray="18 12"/>
<path d="M1309.5 2132.6h27L1323 2107.1zM1333.1 2115.1h27L1346.6 2089.6zM1356.2 2097.1h27L1369.7 2071.6zM1378.8 2079.1h27L1392.3 2053.6zM1400.9 2061.2h27L1414.4 2035.7zM1422.6 2043.5h27L1436.1 2018zM1443.8 2026.1h27L1457.3 2000.6zM1464.7 2008.9h27L1478.2 1983.4zM1485.1 1991.9h27L1498.6 1966.4zM1505.2 1975.2h27L1518.7 1949.7zM1524.9 1958.7h27L1538.4 1933.2zM1544.2 1942.4h27L1557.7 1916.9zM1563.3 1926.3h27L1576.8 1900.8zM1582 1910.5h27L1595.5 1885zM1600.4 1894.8h27L1613.9 1869.3zM1618.5 1879.4h27L1632 1853.9zM1636.4 1864.2h27L1649.9 1838.7zM1653.9 1849.2h27L1667.4 1823.7zM1671.3 1834.3h27L1684.8 1808.8zM1688.3 1819.7h27L1701.8 1794.2zM1705.1 1805.2h27L1718.6 1779.7zM1721.7 1790.9h27L1735.2 1765.4z" fill="#0000ff"/>
<path d="M1323 2123.3L1346.6 2097L1369.7 2071.4L1392.3 2046.3L1414.4 2021.7L1436.1 1997.6L1457.3 1974L1478.2 1950.8L1498.6 1928.1L1518.7 1905.8L1538.4 1883.9L1557.7 1862.4L1576.8 1841.2L1595.5 1820.4L1613.9 1800L1632 1779.8L1649.9 1760L1667.4 1740.4L1684.8 1721.2L1701.8 1702.2L1718.6 1683.5L1735.2 1665.1" stroke="#ff0000" stroke-width="2.3" fill="none" stroke-dasharray="18 12"/>
<path d="M1309.5 2132.6h27L1323 2107.1zM1333.1 2106.3h27L1346.6 2080.8zM1356.2 2080.6h27L1369.7 2055.1zM1378.8 2055.5h27L1392.3 2030zM1400.9 2030.9h27L1414.4 2005.4zM1422.6 2006.8h27L1436.1 1981.3zM1443.8 1983.2h27L1457.3 1957.7zM1464.7 1960.1h27L1478.2 1934.6zM1485.1 1937.4h27L1498.6 1911.9zM1505.2 1915.1h27L1518.7 1889.6zM1524.9 1893.2h27L1538.4 1867.7zM1544.2 1871.6h27L1557.7 1846.1zM1563.3 1850.5h27L1576.8 1825zM1582 1829.7h27L1595.5 1804.2zM1600.4 1809.2h27L1613.9 1783.7zM1618.5 1789.1h27L1632 1763.6zM1636.4 1769.2h27L1649.9 1743.7zM1653.9 1749.7h27L1667.4 1724.2zM1671.3 1730.5h27L1684.8 1705zM1688.3 1711.5h27L1701.8 1686zM1705.1 1692.8h27L1718.6 1667.3zM1721.7 1674.3h27L1735.2 1648.8z" fill="#ff0000"/>
<path d="M145.4 3291.5L212.8 3267.2L276 3243.3L335.6 3220.4L392.1 3198.4L445.9 3177.4L497.2 3157.2L546.3 3137.8L593.4 3119.1L638.8 3101.1L682.5 3083.6L724.7 3066.7L765.5 3050.3L805.1 3034.4L843.4 3018.9L880.7 3003.9L916.9 2989.2L952.2 2974.9L986.6 2961L1020.1 2947.4L1052.9 2934.1" stroke="#000000" stroke-width="2.3" fill="none" stroke-dasharray="18 12"/>
<path d="M128.4 3291.5h34M145.4 3274.5v34M195.8 3267.2h34M212.8 3250.2v34M259 3243.3h34M276 3226.3v34M318.6 3220.4h34M335.6 3203.4v34M375.1 3198.4h34M392.1 3181.4v34M428.9 3177.4h34M445.9 3160.4v34M480.2 3157.2h34M497.2 3140.2v34M529.3 3137.8h34M546.3 3120.8v34M576.4 3119.1h34M593.4 3102.1v34M621.8 3101.1h34M638.8 3084.1v34M665.5 3083.6h34M682.5 3066.6v34M707.7 3066.7h34M724.7 3049.7v34M748.5 3050.3h34M765.5 3033.3v34M788.1 3034.4h34M805.1 3017.4v34M826.4 3018.9h34M843.4 3001.9v34M863.7 3003.9h34M880.7 2986.9v34M899.9 2989.2h34M916.9 2972.2v34M935.2 2974.9h34M952.2 2957.9v34M969.6 2961h34M986.6 2944v34M1003.1 2947.4h34M1020.1 2930.4v34M1035.9 2934.1h34M1052.9 2917.1v34" stroke="#000000" stroke-width="5" fill="none"/>
<path d="M145.4 3291.5L212.8 3245.9L276 3201.3L335.6 3158.6L392.1 3117.8L445.9 3078.7L497.2 3041.2L546.3 3005.1L593.4 2970.4L638.8 2936.8L682.5 2904.4L724.7 2873.1L765.5 2842.6L805.1 2813.1L843.4 2784.4L880.7 2756.5L916.9 2729.4L952.2 2702.9L986.6 2677L1020.1 2651.8L1052.9 2627.1" stroke="#0000ff" stroke-width="2.3" fill="none" stroke-dasharray="18 12"/>
<path d="M128.4 3291.5h34M145.4 3274.5v34M195.8 3245.9h34M212.8 3228.9v34M259 3201.3h34M276 3184.3v34M318.6 3158.6h34M335.6 3141.6v34M375.1 3117.8h34M392.1 3100.8v34M428.9 3078.7h34M445.9 3061.7v34M480.2 3041.2h34M497.2 3024.2v34M529.3 3005.1h34M546.3 2988.1v34M576.4 2970.4h34M593.4 2953.4v34M621.8 2936.8h34M638.8 2919.8v34M665.5 2904.4h34M682.5 2887.4v34M707.7 2873.1h34M724.7 2856.1v34M748.5 2842.6h34M765.5 2825.6v34M788.1 2813.1h34M805.1 2796.1v34M826.4 2784.4h34M843.4 2767.4v34M863.7 2756.5h34M880.7 2739.5v34M899.9 2729.4h34M916.9 2712.4v34M935.2 2702.9h34M952.2 2685.9v34M969.6 2677h34M986.6 2660v34M1003.1 2651.8h34M1020.1 2634.8v34M1035.9 2627.1h34M1052.9 2610.1v34" stroke="#0000ff" stroke-width="5" fill="none"/>
<path d="M145.4 3291.5L212.8 3232.7L276 3176.8L335.6 3123.8L392.1 3073.4L445.9 3025.4L497.2 2979.4L546.3 2935.4L593.4 2893.1L638.8 2852.3L682.5 2813L724.7 2775L765.5 2738.2L805.1 2702.6L843.4 2668L880.7 2634.4L916.9 2601.6L952.2 2569.8L986.6 2538.7L1020.1 2508.4L1052.9 2478.8" stroke="#ff0000" stroke-width="2.3" fill="none" stroke-dasharray="18 12"/>
<path d="M128.4 3291.5h34M145.4 3274.5v34M195.8 3232.7h34M212.8 3215.7v34M259 3176.8h34M276 3159.8v34M318.6 3123.8h34M335.6 3106.8v34M375.1 3073.4h34M392.1 3056.4v34M428.9 3025.4h34M445.9 3008.4v34M480.2 2979.4h34M497.2 2962.4v34M529.3 2935.4h34M546.3 2918.4v34M576.4 2893.1h34M593.4 2876.1v34M621.8 2852.3h34M638.8 2835.3v34M665.5 2813h34M682.5 2796v34M707.7 2775h34M724.7 2758v34M748.5 2738.2h34M765.5 2721.2v34M788.1 2702.6h34M805.1 2685.6v34M826.4 2668h34M843.4 2651v34M863.7 2634.4h34M880.7 2617.4v34M899.9 2601.6h34M916.9 2584.6v34M935.2 2569.8h34M952.2 2552.8v34M969.6 2538.7h34M986.6 2521.7v34M1003.1 2508.4h34M1020.1 2491.4v34M1035.9 2478.8h34M1052.9 2461.8v34" stroke="#ff0000" stroke-width="5" fill="none"/>
<path d="M145.4 3291.5L212.9 3269.5L276.7 3248.3L336.7 3228.3L393.4 3209.3L446.8 3191.3L497.1 3174.3L544.6 3158.3L589.3 3143.2L631.6 3128.9L671.5 3115.3L709.3 3102.5L745.1 3090.3L779.2 3078.8L811.8 3067.7L842.9 3057.1L872.8 3046.9L901.8 3037L929.9 3027.4L957.4 3018.1L984.4 3008.9L1011.2 2999.7" stroke="#000000" stroke-width="2.3" fill="none" stroke-dasharray="18 12"/>
<path d="M145.4 3275l16.5 16.5l-16.5 16.5l-16.5 -16.5zM212.9 3253l16.5 16.5l-16.5 16.5l-16.5 -16.5zM276.7 3231.8l16.5 16.5l-16.5 16.5l-16.5 -16.5zM336.7 3211.8l16.5 16.5l-16.5 16.5l-16.5 -16.5zM393.4 3192.8l16.5 16.5l-16.5 16.5l-16.5 -16.5zM446.8 3174.8l16.5 16.5l-16.5 16.5l-16.5 -16.5zM497.1 3157.8l16.5 16.5l-16.5 16.5l-16.5 -16.5zM544.6 3141.8l16.5 16.5l-16.5 16.5l-16.5 -16.5zM589.3 3126.7l16.5 16.5l-16.5 16.5l-16.5 -16.5zM631.6 3112.4l16.5 16.5l-16.5 16.5l-16.5 -16.5zM671.5 3098.8l16.5 16.5l-16.5 16.5l-16.5 -16.5zM709.3 3086l16.5 16.5l-16.5 16.5l-16.5 -16.5zM745.1 3073.8l16.5 16.5l-16.5 16.5l-16.5 -16.5zM779.2 3062.3l16.5 16.5l-16.5 16.5l-16.5 -16.5zM811.8 3051.2l16.5 16.5l-16.5 16.5l-16.5 -16.5zM842.9 3040.6l16.5 16.5l-16.5 16.5l-16.5 -16.5zM872.8 3030.4l16.5 16.5l-16.5 16.5l-16.5 -16.5zM901.8 3020.5l16.5 16.5l-16.5 16.5l-16.5 -16.5zM929.9 3010.9l16.5 16.5l-16.5 16.5l-16.5 -16.5zM957.4 3001.6l16.5 16.5l-16.5 16.5l-16.5 -16.5zM984.4 2992.4l16.5 16.5l-16.5 16.5l-16.5 -16.5zM1011.2 2983.2l16.5 16.5l-16.5 16.5l-16.5 -16.5z" fill="#000000"/>
<path d="M145.4 3291.5L212.9 3251.1L276.7 3211.1L336.7 3172.7L393.4 3136L446.8 3101.3L497.1 3068.2L544.6 3037L589.3 3007.4L631.6 2979.3L671.5 2952.7L709.3 2927.4L745.1 2903.4L779.2 2880.5L811.8 2858.7L842.9 2837.7L872.8 2817.5L901.8 2798L929.9 2778.9L957.4 2760.3L984.4 2742L1011.2 2723.8" stroke="#0000ff" stroke-width="2.3" fill="none" stroke-dasharray="18 12"/>
<path d="M145.4 3275l16.5 16.5l-16.5 16.5l-16.5 -16.5zM212.9 3234.6l16.5 16.5l-16.5 16.5l-16.5 -16.5zM276.7 3194.6l16.5 16.5l-16.5 16.5l-16.5 -16.5zM336.7 3156.2l16.5 16.5l-16.5 16.5l-16.5 -16.5zM393.4 3119.5l16.5 16.5l-16.5 16.5l-16.5 -16.5zM446.8 3084.8l16.5 16.5l-16.5 16.5l-16.5 -16.5zM497.1 3051.7l16.5 16.5l-16.5 16.5l-16.5 -16.5zM544.6 3020.5l16.5 16.5l-16.5 16.5l-16.5 -16.5zM589.3 2990.9l16.5 16.5l-16.5 16.5l-16.5 -16.5zM631.6 2962.8l16.5 16.5l-16.5 16.5l-16.5 -16.5zM671.5 2936.2l16.5 16.5l-16.5 16.5l-16.5 -16.5zM709.3 2910.9l16.5 16.5l-16.5 16.5l-16.5 -16.5zM745.1 2886.9l16.5 16.5l-16.5 16.5l-16.5 -16.5zM779.2 2864l16.5 16.5l-16.5 16.5l-16.5 -16.5zM811.8 2842.2l16.5 16.5l-16.5 16.5l-16.5 -16.5zM842.9 2821.2l16.5 16.5l-16.5 16.5l-16.5 -16.5zM872.8 2801l16.5 16.5l-16.5 16.5l-16.5 -16.5zM901.8 2781.5l16.5 16.5l-16.5 16.5l-16.5 -16.5zM929.9 2762.4l16.5 16.5l-16.5 16.5l-16.5 -16.5zM957.4 2743.8l16.5 16.5l-16.5 16.5l-16.5 -16.5zM984.4 2725.5l16.5 16.5l-16.5 16.5l-16.5 -16.5zM1011.2 2707.3l16.5 16.5l-16.5 16.5l-16.5 -16.5z" fill="#0000ff"/>
<path d="M145.4 3291.5L212.9 3235.6L276.7 3182L336.7 3131.2L393.4 3083L446.8 3037.6L497.1 2994.6L544.6 2954L589.3 2915.7L631.6 2879.5L671.5 2845.3L709.3 2812.8L745.1 2782L779.2 2752.7L811.8 2724.7L842.9 2697.9L872.8 2672.1L901.8 2647.1L929.9 2622.9L957.4 2599.2L984.4 2575.8L1011.2 2552.7" stroke="#ff0000" stroke-width="2.3" fill="none" stroke-dasharray="18 12"/>
<path d="M145.4 3275l16.5 16.5l-16.5 16.5l-16.5 -16.5zM212.9 3219.1l16.5 16.5l-16.5 16.5l-16.5 -16.5zM276.7 3165.5l16.5 16.5l-16.5 16.5l-16.5 -16.5zM336.7 3114.7l16.5 16.5l-16.5 16.5l-16.5 -16.5zM393.4 3066.5l16.5 16.5l-16.5 16.5l-16.5 -16.5zM446.8 3021.1l16.5 16.5l-16.5 16.5l-16.5 -16.5zM497.1 2978.1l16.5 16.5l-16.5 16.5l-16.5 -16.5zM544.6 2937.5l16.5 16.5l-16.5 16.5l-16.5 -16.5zM589.3 2899.2l16.5 16.5l-16.5 16.5l-16.5 -16.5zM631.6 2863l16.5 16.5l-16.5 16.5l-16.5 -16.5zM671.5 2828.8l16.5 16.5l-16.5 16.5l-16.5 -16.5zM709.3 2796.3l16.5 16.5l-16.5 16.5l-16.5 -16.5zM745.1 2765.5l16.5 16.5l-16.5 16.5l-16.5 -16.5zM779.2 2736.2l16.5 16.5l-16.5 16.5l-16.5 -16.5zM811.8 2708.2l16.5 16.5l-16.5 16.5l-16.5 -16.5zM842.9 2681.4l16.5 16.5l-16.5 16.5l-16.5 -16.5zM872.8 2655.6l16.5 16.5l-16.5 16.5l-16.5 -16.5zM901.8 2630.6l16.5 16.5l-16.5 16.5l-16.5 -16.5zM929.9 2606.4l16.5 16.5l-16.5 16.5l-16.5 -16.5zM957.4 2582.7l16.5 16.5l-16.5 16.5l-16.5 -16.5zM984.4 2559.3l16.5 16.5l-16.5 16.5l-16.5 -16.5zM1011.2 2536.2l16.5 16.5l-16.5 16.5l-16.5 -16.5z" fill="#ff0000"/>
<path d="M145.4 3291.5L200.9 3268.8L254.1 3246.2L305.2 3224.1L354.4 3202.6L401.8 3181.8L447.6 3161.5L492 3141.8L535.1 3122.6L576.9 3103.9L617.5 3085.7L657.1 3067.9L695.6 3050.6L733.2 3033.6L769.9 3017L805.8 3000.7L840.8 2984.8L875.2 2969.2L908.8 2953.9L941.7 2938.9L974 2924.2L1005.7 2909.7" stroke="#000000" stroke-width="2.3" fill="none" stroke-dasharray="18 12"/>
<path d="M131.9 3300.8h27L145.4 3275.2zM187.4 3278.1h27L200.9 3252.6zM240.6 3255.4h27L254.1 3229.9zM291.7 3233.3h27L305.2 3207.8zM340.9 3211.9h27L354.4 3186.4zM388.3 3191h27L401.8 3165.5zM434.1 3170.8h27L447.6 3145.3zM478.5 3151.1h27L492 3125.6zM521.6 3131.9h27L535.1 3106.4zM563.4 3113.2h27L576.9 3087.7zM604 3095h27L617.5 3069.5zM643.6 3077.2h27L657.1 3051.7zM682.1 3059.8h27L695.6 3034.3zM719.7 3042.8h27L733.2 3017.3zM756.4 3026.2h27L769.9 3000.7zM792.3 3010h27L805.8 2984.5zM827.3 2994.1h27L840.8 2968.6zM861.7 2978.5h27L875.2 2953zM895.3 2963.2h27L908.8 2937.7zM928.2 2948.2h27L941.7 2922.7zM960.5 2933.4h27L974 2907.9zM992.2 2919h27L1005.7 2893.5z" fill="#000000"/>
<path d="M145.4 3291.5L200.9 3250.4L254.1 3210L305.2 3170.7L354.4 3132.7L401.8 3095.9L447.6 3060.1L492 3025.4L535.1 2991.7L576.9 2958.9L617.5 2926.9L657.1 2895.7L695.6 2865.3L733.2 2835.5L769.9 2806.5L805.8 2778.1L840.8 2750.2L875.2 2723L908.8 2696.2L941.7 2670L974 2644.3L1005.7 2619.1" stroke="#0000ff" stroke-width="2.3" fill="none" stroke-dasharray="18 12"/>
<path d="M131.9 3300.8h27L145.4 3275.2zM187.4 3259.7h27L200.9 3234.2zM240.6 3219.2h27L254.1 3193.7zM291.7 3180h27L305.2 3154.5zM340.9 3142h27L354.4 3116.5zM388.3 3105.1h27L401.8 3079.6zM434.1 3069.4h27L447.6 3043.9zM478.5 3034.7h27L492 3009.2zM521.6 3000.9h27L535.1 2975.4zM563.4 2968.1h27L576.9 2942.6zM604 2936.1h27L617.5 2910.6zM643.6 2904.9h27L657.1 2879.4zM682.1 2874.5h27L695.6 2849zM719.7 2844.8h27L733.2 2819.3zM756.4 2815.7h27L769.9 2790.2zM792.3 2787.3h27L805.8 2761.8zM827.3 2759.5h27L840.8 2734zM861.7 2732.2h27L875.2 2706.7zM895.3 2705.5h27L908.8 2680zM928.2 2679.3h27L941.7 2653.8zM960.5 2653.6h27L974 2628.1zM992.2 2628.3h27L1005.7 2602.8z" fill="#0000ff"/>
<path d="M145.4 3291.5L200.9 3241.3L254.1 3192.9L305.2 3146.3L354.4 3101.4L401.8 3058L447.6 3016L492 2975.3L535.1 2935.8L576.9 2897.5L617.5 2860.2L657.1 2823.9L695.6 2788.5L733.2 2753.9L769.9 2720.2L805.8 2687.2L840.8 2655L875.2 2623.4L908.8 2592.4L941.7 2562.1L974 2532.4L1005.7 2503.2" stroke="#ff0000" stroke-width="2.3" fill="none" stroke-dasharray="18 12"/>
<path d="M131.9 3300.8h27L145.4 3275.2zM187.4 3250.6h27L200.9 3225.1zM240.6 3202.2h27L254.1 3176.7zM291.7 3155.6h27L305.2 3130.1zM340.9 3110.6h27L354.4 3085.1zM388.3 3067.2h27L401.8 3041.7zM434.1 3025.2h27L447.6 2999.7zM478.5 2984.6h27L492 2959.1zM521.6 2945.1h27L535.1 2919.6zM563.4 2906.8h27L576.9 2881.3zM604 2869.5h27L617.5 2844zM643.6 2833.1h27L657.1 2807.6zM682.1 2797.7h27L695.6 2772.2zM719.7 2763.2h27L733.2 2737.7zM756.4 2729.4h27L769.9 2703.9zM792.3 2696.5h27L805.8 2671zM827.3 2664.2h27L840.8 2638.7zM861.7 2632.6h27L875.2 2607.1zM895.3 2601.7h27L908.8 2576.2zM928.2 2571.4h27L941.7 2545.9zM960.5 2541.7h27L974 2516.2zM992.2 2512.5h27L1005.7 2487z" fill="#ff0000"/>
<path d="M1323 3291.5L1390.4 3273.9L1453.6 3256.7L1513.2 3240.2L1569.7 3224.5L1623.5 3209.4L1674.8 3194.9L1723.9 3181L1771 3167.6L1816.4 3154.6L1860.1 3142.1L1902.3 3130L1943.1 3118.3L1982.7 3106.9L2021 3095.8L2058.3 3085.1L2094.5 3074.6L2129.8 3064.3L2164.2 3054.4L2197.7 3044.6L2230.5 3035.1" stroke="#000000" stroke-width="2.3" fill="none" stroke-dasharray="18 12"/>
<path d="M1306 3291.5h34M1323 3274.5v34M1373.4 3273.9h34M1390.4 3256.9v34M1436.6 3256.7h34M1453.6 3239.7v34M1496.2 3240.2h34M1513.2 3223.2v34M1552.7 3224.5h34M1569.7 3207.5v34M1606.5 3209.4h34M1623.5 3192.4v34M1657.8 3194.9h34M1674.8 3177.9v34M1706.9 3181h34M1723.9 3164v34M1754 3167.6h34M1771 3150.6v34M1799.4 3154.6h34M1816.4 3137.6v34M1843.1 3142.1h34M1860.1 3125.1v34M1885.3 3130h34M1902.3 3113v34M1926.1 3118.3h34M1943.1 3101.3v34M1965.7 3106.9h34M1982.7 3089.9v34M2004 3095.8h34M2021 3078.8v34M2041.3 3085.1h34M2058.3 3068.1v34M2077.5 3074.6h34M2094.5 3057.6v34M2112.8 3064.3h34M2129.8 3047.3v34M2147.2 3054.4h34M2164.2 3037.4v34M2180.7 3044.6h34M2197.7 3027.6v34M2213.5 3035.1h34M2230.5 3018.1v34" stroke="#000000" stroke-width="5" fill="none"/>
<path d="M1323 3291.5L1390.4 3259.2L1453.6 3227.1L1513.2 3196.3L1569.7 3166.7L1623.5 3138.3L1674.8 3111L1723.9 3084.7L1771 3059.4L1816.4 3034.9L1860.1 3011.2L1902.3 2988.3L1943.1 2966L1982.7 2944.4L2021 2923.4L2058.3 2902.9L2094.5 2883L2129.8 2863.5L2164.2 2844.5L2197.7 2826L2230.5 2807.9" stroke="#0000ff" stroke-width="2.3" fill="none" stroke-dasharray="18 12"/>
<path d="M1306 3291.5h34M1323 3274.5v34M1373.4 3259.2h34M1390.4 3242.2v34M1436.6 3227.1h34M1453.6 3210.1v34M1496.2 3196.3h34M1513.2 3179.3v34M1552.7 3166.7h34M1569.7 3149.7v34M1606.5 3138.3h34M1623.5 3121.3v34M1657.8 3111h34M1674.8 3094v34M1706.9 3084.7h34M1723.9 3067.7v34M1754 3059.4h34M1771 3042.4v34M1799.4 3034.9h34M1816.4 3017.9v34M1843.1 3011.2h34M1860.1 2994.2v34M1885.3 2988.3h34M1902.3 2971.3v34M1926.1 2966h34M1943.1 2949v34M1965.7 2944.4h34M1982.7 2927.4v34M2004 2923.4h34M2021 2906.4v34M2041.3 2902.9h34M2058.3 2885.9v34M2077.5 2883h34M2094.5 2866v34M2112.8 2863.5h34M2129.8 2846.5v34M2147.2 2844.5h34M2164.2 2827.5v34M2180.7 2826h34M2197.7 2809v34M2213.5 2807.9h34M2230.5 2790.9v34" stroke="#0000ff" stroke-width="5" fill="none"/>
<path d="M1323 3291.5L1390.4 3239.5L1453.6 3188L1513.2 3138.5L1569.7 3091L1623.5 3045.3L1674.8 3001.5L1723.9 2959.2L1771 2918.5L1816.4 2879.2L1860.1 2841.1L1902.3 2804.2L1943.1 2768.5L1982.7 2733.7L2021 2699.9L2058.3 2667.1L2094.5 2635L2129.8 2603.8L2164.2 2573.3L2197.7 2543.5L2230.5 2514.3" stroke="#ff0000" stroke-width="2.3" fill="none" stroke-dasharray="18 12"/>
<path d="M1306 3291.5h34M1323 3274.5v34M1373.4 3239.5h34M1390.4 3222.5v34M1436.6 3188h34M1453.6 3171v34M1496.2 3138.5h34M1513.2 3121.5v34M1552.7 3091h34M1569.7 3074v34M1606.5 3045.3h34M1623.5 3028.3v34M1657.8 3001.5h34M1674.8 2984.5v34M1706.9 2959.2h34M1723.9 2942.2v34M1754 2918.5h34M1771 2901.5v34M1799.4 2879.2h34M1816.4 2862.2v34M1843.1 2841.1h34M1860.1 2824.1v34M1885.3 2804.2h34M1902.3 2787.2v34M1926.1 2768.5h34M1943.1 2751.5v34M1965.7 2733.7h34M1982.7 2716.7v34M2004 2699.9h34M2021 2682.9v34M2041.3 2667.1h34M2058.3 2650.1v34M2077.5 2635h34M2094.5 2618v34M2112.8 2603.8h34M2129.8 2586.8v34M2147.2 2573.3h34M2164.2 2556.3v34M2180.7 2543.5h34M2197.7 2526.5v34M2213.5 2514.3h34M2230.5 2497.3v34" stroke="#ff0000" stroke-width="5" fill="none"/>
<path d="M1323 3291.5L1390.5 3276.3L1454.3 3261.3L1514.3 3247L1571 3233.4L1624.4 3220.5L1674.7 3208.2L1722.2 3196.6L1766.9 3185.6L1809.2 3175.2L1849.1 3165.4L1886.9 3156.1L1922.7 3147.2L1956.8 3138.7L1989.4 3130.6L2020.5 3122.9L2050.4 3115.4L2079.4 3108.2L2107.5 3101.2L2135 3094.3L2162 3087.6L2188.8 3080.9" stroke="#000000" stroke-width="2.3" fill="none" stroke-dasharray="18 12"/>
<path d="M1323 3275l16.5 16.5l-16.5 16.5l-16.5 -16.5zM1390.5 3259.8l16.5 16.5l-16.5 16.5l-16.5 -16.5zM1454.3 3244.8l16.5 16.5l-16.5 16.5l-16.5 -16.5zM1514.3 3230.5l16.5 16.5l-16.5 16.5l-16.5 -16.5zM1571 3216.9l16.5 16.5l-16.5 16.5l-16.5 -16.5zM1624.4 3204l16.5 16.5l-16.5 16.5l-16.5 -16.5zM1674.7 3191.7l16.5 16.5l-16.5 16.5l-16.5 -16.5zM1722.2 3180.1l16.5 16.5l-16.5 16.5l-16.5 -16.5zM1766.9 3169.1l16.5 16.5l-16.5 16.5l-16.5 -16.5zM1809.2 3158.7l16.5 16.5l-16.5 16.5l-16.5 -16.5zM1849.1 3148.9l16.5 16.5l-16.5 16.5l-16.5 -16.5zM1886.9 3139.6l16.5 16.5l-16.5 16.5l-16.5 -16.5zM1922.7 3130.7l16.5 16.5l-16.5 16.5l-16.5 -16.5zM1956.8 3122.2l16.5 16.5l-16.5 16.5l-16.5 -16.5zM1989.4 3114.1l16.5 16.5l-16.5 16.5l-16.5 -16.5zM2020.5 3106.4l16.5 16.5l-16.5 16.5l-16.5 -16.5zM2050.4 3098.9l16.5 16.5l-16.5 16.5l-16.5 -16.5zM2079.4 3091.7l16.5 16.5l-16.5 16.5l-16.5 -16.5zM2107.5 3084.7l16.5 16.5l-16.5 16.5l-16.5 -16.5zM2135 3077.8l16.5 16.5l-16.5 16.5l-16.5 -16.5zM2162 3071.1l16.5 16.5l-16.5 16.5l-16.5 -16.5zM2188.8 3064.4l16.5 16.5l-16.5 16.5l-16.5 -16.5z" fill="#000000"/>
<path d="M1323 3291.5L1390.5 3263.6L1454.3 3236.2L1514.3 3209.9L1571 3184.9L1624.4 3161.2L1674.7 3138.8L1722.2 3117.5L1766.9 3097.4L1809.2 3078.3L1849.1 3060.3L1886.9 3043.1L1922.7 3026.9L1956.8 3011.3L1989.4 2996.5L2020.5 2982.3L2050.4 2968.6L2079.4 2955.4L2107.5 2942.5L2135 2929.9L2162 2917.5L2188.8 2905.2" stroke="#0000ff" stroke-width="2.3" fill="none" stroke-dasharray="18 12"/>
<path d="M1323 3275l16.5 16.5l-16.5 16.5l-16.5 -16.5zM1390.5 3247.1l16.5 16.5l-16.5 16.5l-16.5 -16.5zM1454.3 3219.7l16.5 16.5l-16.5 16.5l-16.5 -16.5zM1514.3 3193.4l16.5 16.5l-16.5 16.5l-16.5 -16.5zM1571 3168.4l16.5 16.5l-16.5 16.5l-16.5 -16.5zM1624.4 3144.7l16.5 16.5l-16.5 16.5l-16.5 -16.5zM1674.7 3122.3l16.5 16.5l-16.5 16.5l-16.5 -16.5zM1722.2 3101l16.5 16.5l-16.5 16.5l-16.5 -16.5zM1766.9 3080.9l16.5 16.5l-16.5 16.5l-16.5 -16.5zM1809.2 3061.8l16.5 16.5l-16.5 16.5l-16.5 -16.5zM1849.1 3043.8l16.5 16.5l-16.5 16.5l-16.5 -16.5zM1886.9 3026.6l16.5 16.5l-16.5 16.5l-16.5 -16.5zM1922.7 3010.4l16.5 16.5l-16.5 16.5l-16.5 -16.5zM1956.8 2994.8l16.5 16.5l-16.5 16.5l-16.5 -16.5zM1989.4 2980l16.5 16.5l-16.5 16.5l-16.5 -16.5zM2020.5 2965.8l16.5 16.5l-16.5 16.5l-16.5 -16.5zM2050.4 2952.1l16.5 16.5l-16.5 16.5l-16.5 -16.5zM2079.4 2938.9l16.5 16.5l-16.5 16.5l-16.5 -16.5zM2107.5 2926l16.5 16.5l-16.5 16.5l-16.5 -16.5zM2135 2913.4l16.5 16.5l-16.5 16.5l-16.5 -16.5zM2162 2901l16.5 16.5l-16.5 16.5l-16.5 -16.5zM2188.8 2888.7l16.5 16.5l-16.5 16.5l-16.5 -16.5z" fill="#0000ff"/>
<path d="M1323 3291.5L1390.5 3247.2L1454.3 3202.5L1514.3 3159.2L1571 3117.8L1624.4 3078.4L1674.7 3040.8L1722.2 3005.2L1766.9 2971.4L1809.2 2939.4L1849.1 2909L1886.9 2880L1922.7 2852.5L1956.8 2826.3L1989.4 2801.2L2020.5 2777.1L2050.4 2753.9L2079.4 2731.4L2107.5 2709.5L2135 2688.1L2162 2667L2188.8 2646" stroke="#ff0000" stroke-width="2.3" fill="none" stroke-dasharray="18 12"/>
<path d="M1323 3275l16.5 16.5l-16.5 16.5l-16.5 -16.5zM1390.5 3230.7l16.5 16.5l-16.5 16.5l-16.5 -16.5zM1454.3 3186l16.5 16.5l-16.5 16.5l-16.5 -16.5zM1514.3 3142.7l16.5 16.5l-16.5 16.5l-16.5 -16.5zM1571 3101.3l16.5 16.5l-16.5 16.5l-16.5 -16.5zM1624.4 3061.9l16.5 16.5l-16.5 16.5l-16.5 -16.5zM1674.7 3024.3l16.5 16.5l-16.5 16.5l-16.5 -16.5zM1722.2 2988.7l16.5 16.5l-16.5 16.5l-16.5 -16.5zM1766.9 2954.9l16.5 16.5l-16.5 16.5l-16.5 -16.5zM1809.2 2922.9l16.5 16.5l-16.5 16.5l-16.5 -16.5zM1849.1 2892.5l16.5 16.5l-16.5 16.5l-16.5 -16.5zM1886.9 2863.5l16.5 16.5l-16.5 16.5l-16.5 -16.5zM1922.7 2836l16.5 16.5l-16.5 16.5l-16.5 -16.5zM1956.8 2809.8l16.5 16.5l-16.5 16.5l-16.5 -16.5zM1989.4 2784.7l16.5 16.5l-16.5 16.5l-16.5 -16.5zM2020.5 2760.6l16.5 16.5l-16.5 16.5l-16.5 -16.5zM2050.4 2737.4l16.5 16.5l-16.5 16.5l-16.5 -16.5zM2079.4 2714.9l16.5 16.5l-16.5 16.5l-16.5 -16.5zM2107.5 2693l16.5 16.5l-16.5 16.5l-16.5 -16.5zM2135 2671.6l16.5 16.5l-16.5 16.5l-16.5 -16.5zM2162 2650.5l16.5 16.5l-16.5 16.5l-16.5 -16.5zM2188.8 2629.5l16.5 16.5l-16.5 16.5l-16.5 -16.5z" fill="#ff0000"/>
<path d="M1323 3291.5L1378.5 3274.4L1431.7 3257.8L1482.8 3241.8L1532 3226.3L1579.4 3211.3L1625.2 3196.8L1669.6 3182.8L1712.7 3169.2L1754.5 3155.9L1795.1 3143L1834.7 3130.4L1873.2 3118.2L1910.8 3106.2L1947.5 3094.5L1983.4 3083.1L2018.4 3071.9L2052.8 3060.9L2086.4 3050.2L2119.3 3039.7L2151.6 3029.4L2183.3 3019.3" stroke="#000000" stroke-width="2.3" fill="none" stroke-dasharray="18 12"/>
<path d="M1309.5 3300.8h27L1323 3275.2zM1365 3283.7h27L1378.5 3258.2zM1418.2 3267.1h27L1431.7 3241.6zM1469.3 3251h27L1482.8 3225.5zM1518.5 3235.6h27L1532 3210.1zM1565.9 3220.6h27L1579.4 3195.1zM1611.7 3206.1h27L1625.2 3180.6zM1656.1 3192h27L1669.6 3166.5zM1699.2 3178.4h27L1712.7 3152.9zM1741 3165.1h27L1754.5 3139.6zM1781.6 3152.2h27L1795.1 3126.7zM1821.2 3139.7h27L1834.7 3114.2zM1859.7 3127.4h27L1873.2 3101.9zM1897.3 3115.4h27L1910.8 3089.9zM1934 3103.7h27L1947.5 3078.2zM1969.9 3092.3h27L1983.4 3066.8zM2004.9 3081.1h27L2018.4 3055.6zM2039.3 3070.2h27L2052.8 3044.7zM2072.9 3059.5h27L2086.4 3034zM2105.8 3048.9h27L2119.3 3023.4zM2138.1 3038.6h27L2151.6 3013.1zM2169.8 3028.5h27L2183.3 3003z" fill="#000000"/>
<path d="M1323 3291.5L1378.5 3260.9L1431.7 3230.1L1482.8 3200.1L1532 3170.8L1579.4 3142.3L1625.2 3114.6L1669.6 3087.7L1712.7 3061.4L1754.5 3035.8L1795.1 3010.9L1834.7 2986.5L1873.2 2962.7L1910.8 2939.4L1947.5 2916.6L1983.4 2894.3L2018.4 2872.5L2052.8 2851.1L2086.4 2830.1L2119.3 2809.4L2151.6 2789.2L2183.3 2769.3" stroke="#0000ff" stroke-width="2.3" fill="none" stroke-dasharray="18 12"/>
<path d="M1309.5 3300.8h27L1323 3275.2zM1365 3270.1h27L1378.5 3244.6zM1418.2 3239.4h27L1431.7 3213.9zM1469.3 3209.3h27L1482.8 3183.8zM1518.5 3180h27L1532 3154.5zM1565.9 3151.6h27L1579.4 3126.1zM1611.7 3123.9h27L1625.2 3098.4zM1656.1 3096.9h27L1669.6 3071.4zM1699.2 3070.7h27L1712.7 3045.2zM1741 3045.1h27L1754.5 3019.6zM1781.6 3020.1h27L1795.1 2994.6zM1821.2 2995.8h27L1834.7 2970.3zM1859.7 2972h27L1873.2 2946.5zM1897.3 2948.7h27L1910.8 2923.2zM1934 2925.9h27L1947.5 2900.4zM1969.9 2903.6h27L1983.4 2878.1zM2004.9 2881.7h27L2018.4 2856.2zM2039.3 2860.3h27L2052.8 2834.8zM2072.9 2839.3h27L2086.4 2813.8zM2105.8 2818.7h27L2119.3 2793.2zM2138.1 2798.4h27L2151.6 2772.9zM2169.8 2778.6h27L2183.3 2753.1z" fill="#0000ff"/>
<path d="M1323 3291.5L1378.5 3242.6L1431.7 3194.4L1482.8 3147.6L1532 3102.2L1579.4 3058.2L1625.2 3015.4L1669.6 2973.9L1712.7 2933.6L1754.5 2894.3L1795.1 2856L1834.7 2818.7L1873.2 2782.3L1910.8 2746.7L1947.5 2711.9L1983.4 2677.8L2018.4 2644.5L2052.8 2611.9L2086.4 2579.9L2119.3 2548.5L2151.6 2517.7L2183.3 2487.4" stroke="#ff0000" stroke-width="2.3" fill="none" stroke-dasharray="18 12"/>
<path d="M1309.5 3300.8h27L1323 3275.2zM1365 3251.9h27L1378.5 3226.4zM1418.2 3203.7h27L1431.7 3178.2zM1469.3 3156.8h27L1482.8 3131.3zM1518.5 3111.4h27L1532 3085.9zM1565.9 3067.4h27L1579.4 3041.9zM1611.7 3024.7h27L1625.2 2999.2zM1656.1 2983.2h27L1669.6 2957.7zM1699.2 2942.8h27L1712.7 2917.3zM1741 2903.5h27L1754.5 2878zM1781.6 2865.3h27L1795.1 2839.8zM1821.2 2827.9h27L1834.7 2802.4zM1859.7 2791.5h27L1873.2 2766zM1897.3 2755.9h27L1910.8 2730.4zM1934 2721.1h27L1947.5 2695.6zM1969.9 2687.1h27L1983.4 2661.6zM2004.9 2653.8h27L2018.4 2628.3zM2039.3 2621.1h27L2052.8 2595.6zM2072.9 2589.1h27L2086.4 2563.6zM2105.8 2557.7h27L2119.3 2532.2zM2138.1 2526.9h27L2151.6 2501.4zM2169.8 2496.7h27L2183.3 2471.2z" fill="#ff0000"/>
<path d="M145.4 4460L212.4 4436.3L275.4 4412.9L334.9 4390.5L391.3 4368.9L445.1 4348.2L496.4 4328.3L545.6 4309.1L592.9 4290.6L638.4 4272.7L682.3 4255.4L724.7 4238.7L765.7 4222.4L805.5 4206.6L844.1 4191.2L881.6 4176.3L918 4161.7L953.6 4147.5L988.2 4133.6L1022 4120L1055 4106.7" stroke="#000000" stroke-width="2.3" fill="none" stroke-dasharray="18 12"/>
<path d="M128.4 4460h34M145.4 4443v34M195.4 4436.3h34M212.4 4419.3v34M258.4 4412.9h34M275.4 4395.9v34M317.9 4390.5h34M334.9 4373.5v34M374.3 4368.9h34M391.3 4351.9v34M428.1 4348.2h34M445.1 4331.2v34M479.4 4328.3h34M496.4 4311.3v34M528.6 4309.1h34M545.6 4292.1v34M575.9 4290.6h34M592.9 4273.6v34M621.4 4272.7h34M638.4 4255.7v34M665.3 4255.4h34M682.3 4238.4v34M707.7 4238.7h34M724.7 4221.7v34M748.7 4222.4h34M765.7 4205.4v34M788.5 4206.6h34M805.5 4189.6v34M827.1 4191.2h34M844.1 4174.2v34M864.6 4176.3h34M881.6 4159.3v34M901 4161.7h34M918 4144.7v34M936.6 4147.5h34M953.6 4130.5v34M971.2 4133.6h34M988.2 4116.6v34M1005 4120h34M1022 4103v34M1038 4106.7h34M1055 4089.7v34" stroke="#000000" stroke-width="5" fill="none"/>
<path d="M145.4 4460L212.4 4415.4L275.4 4371.4L334.9 4329.2L391.3 4288.7L445.1 4249.8L496.4 4212.4L545.6 4176.3L592.9 4141.6L638.4 4108L682.3 4075.6L724.7 4044.1L765.7 4013.6L805.5 3983.9L844.1 3955.1L881.6 3927L918 3899.6L953.6 3872.9L988.2 3846.9L1022 3821.4L1055 3796.5" stroke="#0000ff" stroke-width="2.3" fill="none" stroke-dasharray="18 12"/>
<path d="M128.4 4460h34M145.4 4443v34M195.4 4415.4h34M212.4 4398.4v34M258.4 4371.4h34M275.4 4354.4v34M317.9 4329.2h34M334.9 4312.2v34M374.3 4288.7h34M391.3 4271.7v34M428.1 4249.8h34M445.1 4232.8v34M479.4 4212.4h34M496.4 4195.4v34M528.6 4176.3h34M545.6 4159.3v34M575.9 4141.6h34M592.9 4124.6v34M621.4 4108h34M638.4 4091v34M665.3 4075.6h34M682.3 4058.6v34M707.7 4044.1h34M724.7 4027.1v34M748.7 4013.6h34M765.7 3996.6v34M788.5 3983.9h34M805.5 3966.9v34M827.1 3955.1h34M844.1 3938.1v34M864.6 3927h34M881.6 3910v34M901 3899.6h34M918 3882.6v34M936.6 3872.9h34M953.6 3855.9v34M971.2 3846.9h34M988.2 3829.9v34M1005 3821.4h34M1022 3804.4v34M1038 3796.5h34M1055 3779.5v34" stroke="#0000ff" stroke-width="5" fill="none"/>
<path d="M145.4 4460L212.4 4401.9L275.4 4346.4L334.9 4293.8L391.3 4243.6L445.1 4195.7L496.4 4149.9L545.6 4105.9L592.9 4063.6L638.4 4022.9L682.3 3983.5L724.7 3945.5L765.7 3908.6L805.5 3872.8L844.1 3838.1L881.6 3804.4L918 3771.5L953.6 3739.5L988.2 3708.2L1022 3677.7L1055 3648" stroke="#ff0000" stroke-width="2.3" fill="none" stroke-dasharray="18 12"/>
<path d="M128.4 4460h34M145.4 4443v34M195.4 4401.9h34M212.4 4384.9v34M258.4 4346.4h34M275.4 4329.4v34M317.9 4293.8h34M334.9 4276.8v34M374.3 4243.6h34M391.3 4226.6v34M428.1 4195.7h34M445.1 4178.7v34M479.4 4149.9h34M496.4 4132.9v34M528.6 4105.9h34M545.6 4088.9v34M575.9 4063.6h34M592.9 4046.6v34M621.4 4022.9h34M638.4 4005.9v34M665.3 3983.5h34M682.3 3966.5v34M707.7 3945.5h34M724.7 3928.5v34M748.7 3908.6h34M765.7 3891.6v34M788.5 3872.8h34M805.5 3855.8v34M827.1 3838.1h34M844.1 3821.1v34M864.6 3804.4h34M881.6 3787.4v34M901 3771.5h34M918 3754.5v34M936.6 3739.5h34M953.6 3722.5v34M971.2 3708.2h34M988.2 3691.2v34M1005 3677.7h34M1022 3660.7v34M1038 3648h34M1055 3631v34" stroke="#ff0000" stroke-width="5" fill="none"/>
<path d="M145.4 4460L189.5 4440.3L231.9 4420.8L272.8 4401.9L312.2 4383.4L350.3 4365.5L387.3 4348.1L423.1 4331.2L457.9 4314.7L491.7 4298.7L524.7 4283L556.8 4267.7L588.1 4252.8L618.6 4238.2L648.5 4223.9L677.7 4209.9L706.3 4196.2L734.2 4182.8L761.7 4169.6L788.5 4156.7L814.9 4144" stroke="#000000" stroke-width="2.3" fill="none" stroke-dasharray="18 12"/>
<path d="M145.4 4443.5l16.5 16.5l-16.5 16.5l-16.5 -16.5zM189.5 4423.8l16.5 16.5l-16.5 16.5l-16.5 -16.5zM231.9 4404.3l16.5 16.5l-16.5 16.5l-16.5 -16.5zM272.8 4385.4l16.5 16.5l-16.5 16.5l-16.5 -16.5zM312.2 4366.9l16.5 16.5l-16.5 16.5l-16.5 -16.5zM350.3 4349l16.5 16.5l-16.5 16.5l-16.5 -16.5zM387.3 4331.6l16.5 16.5l-16.5 16.5l-16.5 -16.5zM423.1 4314.7l16.5 16.5l-16.5 16.5l-16.5 -16.5zM457.9 4298.2l16.5 16.5l-16.5 16.5l-16.5 -16.5zM491.7 4282.2l16.5 16.5l-16.5 16.5l-16.5 -16.5zM524.7 4266.5l16.5 16.5l-16.5 16.5l-16.5 -16.5zM556.8 4251.2l16.5 16.5l-16.5 16.5l-16.5 -16.5zM588.1 4236.3l16.5 16.5l-16.5 16.5l-16.5 -16.5zM618.6 4221.7l16.5 16.5l-16.5 16.5l-16.5 -16.5zM648.5 4207.4l16.5 16.5l-16.5 16.5l-16.5 -16.5zM677.7 4193.4l16.5 16.5l-16.5 16.5l-16.5 -16.5zM706.3 4179.7l16.5 16.5l-16.5 16.5l-16.5 -16.5zM734.2 4166.3l16.5 16.5l-16.5 16.5l-16.5 -16.5zM761.7 4153.1l16.5 16.5l-16.5 16.5l-16.5 -16.5zM788.5 4140.2l16.5 16.5l-16.5 16.5l-16.5 -16.5zM814.9 4127.5l16.5 16.5l-16.5 16.5l-16.5 -16.5z" fill="#000000"/>
<path d="M145.4 4460L189.5 4427.4L231.9 4394.7L272.8 4362.8L312.2 4331.6L350.3 4301.3L387.3 4271.7L423.1 4242.9L457.9 4214.9L491.7 4187.5L524.7 4160.8L556.8 4134.6L588.1 4109.1L618.6 4084.1L648.5 4059.7L677.7 4035.7L706.3 4012.3L734.2 3989.2L761.7 3966.7L788.5 3944.5L814.9 3922.7" stroke="#0000ff" stroke-width="2.3" fill="none" stroke-dasharray="18 12"/>
<path d="M145.4 4443.5l16.5 16.5l-16.5 16.5l-16.5 -16.5zM189.5 4410.9l16.5 16.5l-16.5 16.5l-16.5 -16.5zM231.9 4378.2l16.5 16.5l-16.5 16.5l-16.5 -16.5zM272.8 4346.3l16.5 16.5l-16.5 16.5l-16.5 -16.5zM312.2 4315.1l16.5 16.5l-16.5 16.5l-16.5 -16.5zM350.3 4284.8l16.5 16.5l-16.5 16.5l-16.5 -16.5zM387.3 4255.2l16.5 16.5l-16.5 16.5l-16.5 -16.5zM423.1 4226.4l16.5 16.5l-16.5 16.5l-16.5 -16.5zM457.9 4198.4l16.5 16.5l-16.5 16.5l-16.5 -16.5zM491.7 4171l16.5 16.5l-16.5 16.5l-16.5 -16.5zM524.7 4144.3l16.5 16.5l-16.5 16.5l-16.5 -16.5zM556.8 4118.1l16.5 16.5l-16.5 16.5l-16.5 -16.5zM588.1 4092.6l16.5 16.5l-16.5 16.5l-16.5 -16.5zM618.6 4067.6l16.5 16.5l-16.5 16.5l-16.5 -16.5zM648.5 4043.2l16.5 16.5l-16.5 16.5l-16.5 -16.5zM677.7 4019.2l16.5 16.5l-16.5 16.5l-16.5 -16.5zM706.3 3995.8l16.5 16.5l-16.5 16.5l-16.5 -16.5zM734.2 3972.7l16.5 16.5l-16.5 16.5l-16.5 -16.5zM761.7 3950.2l16.5 16.5l-16.5 16.5l-16.5 -16.5zM788.5 3928l16.5 16.5l-16.5 16.5l-16.5 -16.5zM814.9 3906.2l16.5 16.5l-16.5 16.5l-16.5 -16.5z" fill="#0000ff"/>
<path d="M145.4 4460L231.9 4381.8L312.2 4308.2L387.3 4239L457.9 4173.8L524.7 4111.9L588.1 4053.1L648.5 3997L706.3 3943.3L761.7 3891.7L814.9 3842.1" stroke="#ff0000" stroke-width="2.3" fill="none" stroke-dasharray="18 12"/>
<path d="M145.4 4443.5l16.5 16.5l-16.5 16.5l-16.5 -16.5zM231.9 4365.3l16.5 16.5l-16.5 16.5l-16.5 -16.5zM312.2 4291.7l16.5 16.5l-16.5 16.5l-16.5 -16.5zM387.3 4222.5l16.5 16.5l-16.5 16.5l-16.5 -16.5zM457.9 4157.3l16.5 16.5l-16.5 16.5l-16.5 -16.5zM524.7 4095.4l16.5 16.5l-16.5 16.5l-16.5 -16.5zM588.1 4036.6l16.5 16.5l-16.5 16.5l-16.5 -16.5zM648.5 3980.5l16.5 16.5l-16.5 16.5l-16.5 -16.5zM706.3 3926.8l16.5 16.5l-16.5 16.5l-16.5 -16.5zM761.7 3875.2l16.5 16.5l-16.5 16.5l-16.5 -16.5zM814.9 3825.6l16.5 16.5l-16.5 16.5l-16.5 -16.5z" fill="#ff0000"/>
<path d="M145.4 4460L169 4445L192.1 4430.7L214.7 4416.7L236.8 4403.2L258.5 4389.9L279.7 4377L300.6 4364.3L321 4351.9L341.1 4339.7L360.8 4327.8L380.1 4316.1L399.2 4304.6L417.9 4293.4L436.3 4282.3L454.4 4271.4L472.3 4260.6L489.8 4250.1L507.2 4239.7L524.2 4229.5L541 4219.4" stroke="#000000" stroke-width="2.3" fill="none" stroke-dasharray="18 12"/>
<path d="M131.9 4469.2h27L145.4 4443.8zM155.5 4454.3h27L169 4428.8zM178.6 4439.9h27L192.1 4414.4zM201.2 4426h27L214.7 4400.5zM223.3 4412.4h27L236.8 4386.9zM245 4399.2h27L258.5 4373.7zM266.2 4386.2h27L279.7 4360.7zM287.1 4373.5h27L300.6 4348zM307.5 4361.1h27L321 4335.6zM327.6 4349h27L341.1 4323.5zM347.3 4337.1h27L360.8 4311.6zM366.6 4325.4h27L380.1 4299.9zM385.7 4313.9h27L399.2 4288.4zM404.4 4302.6h27L417.9 4277.1zM422.8 4291.5h27L436.3 4266zM440.9 4280.6h27L454.4 4255.1zM458.8 4269.9h27L472.3 4244.4zM476.3 4259.3h27L489.8 4233.8zM493.7 4248.9h27L507.2 4223.4zM510.7 4238.7h27L524.2 4213.2zM527.5 4228.6h27L541 4203.1z" fill="#000000"/>
<path d="M145.4 4460L169 4440.2L192.1 4420.4L214.7 4400.7L236.8 4381.4L258.5 4362.4L279.7 4343.6L300.6 4325.2L321 4307.1L341.1 4289.2L360.8 4271.7L380.1 4254.4L399.2 4237.3L417.9 4220.6L436.3 4204.1L454.4 4187.8L472.3 4171.7L489.8 4155.9L507.2 4140.3L524.2 4124.9L541 4109.8" stroke="#0000ff" stroke-width="2.3" fill="none" stroke-dasharray="18 12"/>
<path d="M131.9 4469.2h27L145.4 4443.8zM155.5 4449.5h27L169 4424zM178.6 4429.6h27L192.1 4404.1zM201.2 4410h27L214.7 4384.5zM223.3 4390.6h27L236.8 4365.1zM245 4371.6h27L258.5 4346.1zM266.2 4352.9h27L279.7 4327.4zM287.1 4334.4h27L300.6 4308.9zM307.5 4316.3h27L321 4290.8zM327.6 4298.5h27L341.1 4273zM347.3 4280.9h27L360.8 4255.4zM366.6 4263.6h27L380.1 4238.1zM385.7 4246.6h27L399.2 4221.1zM404.4 4229.8h27L417.9 4204.3zM422.8 4213.3h27L436.3 4187.8zM440.9 4197h27L454.4 4171.5zM458.8 4181h27L472.3 4155.5zM476.3 4165.2h27L489.8 4139.7zM493.7 4149.6h27L507.2 4124.1zM510.7 4134.2h27L524.2 4108.7zM527.5 4119h27L541 4093.5z" fill="#0000ff"/>
<path d="M145.4 4460L169 4437.7L192.1 4415.7L214.7 4394.2L236.8 4373L258.5 4352.3L279.7 4332L300.6 4312L321 4292.5L341.1 4273.2L360.8 4254.3L380.1 4235.7L399.2 4217.4L417.9 4199.4L436.3 4181.7L454.4 4164.3L472.3 4147.2L489.8 4130.3L507.2 4113.6L524.2 4097.2L541 4081" stroke="#ff0000" stroke-width="2.3" fill="none" stroke-dasharray="18 12"/>
<path d="M131.9 4469.2h27L145.4 4443.8zM155.5 4446.9h27L169 4421.4zM178.6 4425h27L192.1 4399.5zM201.2 4403.4h27L214.7 4377.9zM223.3 4382.3h27L236.8 4356.8zM245 4361.6h27L258.5 4336.1zM266.2 4341.2h27L279.7 4315.7zM287.1 4321.3h27L300.6 4295.8zM307.5 4301.7h27L321 4276.2zM327.6 4282.5h27L341.1 4257zM347.3 4263.6h27L360.8 4238.1zM366.6 4245h27L380.1 4219.5zM385.7 4226.7h27L399.2 4201.2zM404.4 4208.7h27L417.9 4183.2zM422.8 4191h27L436.3 4165.5zM440.9 4173.6h27L454.4 4148.1zM458.8 4156.4h27L472.3 4130.9zM476.3 4139.5h27L489.8 4114zM493.7 4122.8h27L507.2 4097.3zM510.7 4106.4h27L524.2 4080.9zM527.5 4090.2h27L541 4064.7z" fill="#ff0000"/>
<path d="M1323 4460L1390 4441.1L1453 4423.3L1512.5 4406.5L1568.9 4390.6L1622.7 4375.4L1674 4360.9L1723.2 4347.1L1770.5 4333.7L1816 4320.9L1859.9 4308.5L1902.3 4296.5L1943.3 4285L1983.1 4273.7L2021.7 4262.8L2059.2 4252.2L2095.6 4242L2131.2 4231.9L2165.8 4222.1L2199.6 4212.6L2232.6 4203.3" stroke="#000000" stroke-width="2.3" fill="none" stroke-dasharray="18 12"/>
<path d="M1306 4460h34M1323 4443v34M1373 4441.1h34M1390 4424.1v34M1436 4423.3h34M1453 4406.3v34M1495.5 4406.5h34M1512.5 4389.5v34M1551.9 4390.6h34M1568.9 4373.6v34M1605.7 4375.4h34M1622.7 4358.4v34M1657 4360.9h34M1674 4343.9v34M1706.2 4347.1h34M1723.2 4330.1v34M1753.5 4333.7h34M1770.5 4316.7v34M1799 4320.9h34M1816 4303.9v34M1842.9 4308.5h34M1859.9 4291.5v34M1885.3 4296.5h34M1902.3 4279.5v34M1926.3 4285h34M1943.3 4268v34M1966.1 4273.7h34M1983.1 4256.7v34M2004.7 4262.8h34M2021.7 4245.8v34M2042.2 4252.2h34M2059.2 4235.2v34M2078.6 4242h34M2095.6 4225v34M2114.2 4231.9h34M2131.2 4214.9v34M2148.8 4222.1h34M2165.8 4205.1v34M2182.6 4212.6h34M2199.6 4195.6v34M2215.6 4203.3h34M2232.6 4186.3v34" stroke="#000000" stroke-width="5" fill="none"/>
<path d="M1323 4460L1390 4427.5L1453 4395.4L1512.5 4364.7L1568.9 4335.2L1622.7 4306.9L1674 4279.7L1723.2 4253.5L1770.5 4228.2L1816 4203.8L1859.9 4180.2L1902.3 4157.3L1943.3 4135.1L1983.1 4113.5L2021.7 4092.6L2059.2 4072.1L2095.6 4052.3L2131.2 4032.8L2165.8 4013.9L2199.6 3995.4L2232.6 3977.3" stroke="#0000ff" stroke-width="2.3" fill="none" stroke-dasharray="18 12"/>
<path d="M1306 4460h34M1323 4443v34M1373 4427.5h34M1390 4410.5v34M1436 4395.4h34M1453 4378.4v34M1495.5 4364.7h34M1512.5 4347.7v34M1551.9 4335.2h34M1568.9 4318.2v34M1605.7 4306.9h34M1622.7 4289.9v34M1657 4279.7h34M1674 4262.7v34M1706.2 4253.5h34M1723.2 4236.5v34M1753.5 4228.2h34M1770.5 4211.2v34M1799 4203.8h34M1816 4186.8v34M1842.9 4180.2h34M1859.9 4163.2v34M1885.3 4157.3h34M1902.3 4140.3v34M1926.3 4135.1h34M1943.3 4118.1v34M1966.1 4113.5h34M1983.1 4096.5v34M2004.7 4092.6h34M2021.7 4075.6v34M2042.2 4072.1h34M2059.2 4055.1v34M2078.6 4052.3h34M2095.6 4035.3v34M2114.2 4032.8h34M2131.2 4015.8v34M2148.8 4013.9h34M2165.8 3996.9v34M2182.6 3995.4h34M2199.6 3978.4v34M2215.6 3977.3h34M2232.6 3960.3v34" stroke="#0000ff" stroke-width="5" fill="none"/>
<path d="M1323 4460L1390 4407.1L1453 4355.4L1512.5 4305.8L1568.9 4258.3L1622.7 4212.7L1674 4169L1723.2 4126.9L1770.5 4086.3L1816 4047.1L1859.9 4009.2L1902.3 3972.5L1943.3 3936.9L1983.1 3902.3L2021.7 3868.7L2059.2 3836L2095.6 3804.1L2131.2 3773L2165.8 3742.7L2199.6 3713L2232.6 3684" stroke="#ff0000" stroke-width="2.3" fill="none" stroke-dasharray="18 12"/>
<path d="M1306 4460h34M1323 4443v34M1373 4407.1h34M1390 4390.1v34M1436 4355.4h34M1453 4338.4v34M1495.5 4305.8h34M1512.5 4288.8v34M1551.9 4258.3h34M1568.9 4241.3v34M1605.7 4212.7h34M1622.7 4195.7v34M1657 4169h34M1674 4152v34M1706.2 4126.9h34M1723.2 4109.9v34M1753.5 4086.3h34M1770.5 4069.3v34M1799 4047.1h34M1816 4030.1v34M1842.9 4009.2h34M1859.9 3992.2v34M1885.3 3972.5h34M1902.3 3955.5v34M1926.3 3936.9h34M1943.3 3919.9v34M1966.1 3902.3h34M1983.1 3885.3v34M2004.7 3868.7h34M2021.7 3851.7v34M2042.2 3836h34M2059.2 3819v34M2078.6 3804.1h34M2095.6 3787.1v34M2114.2 3773h34M2131.2 3756v34M2148.8 3742.7h34M2165.8 3725.7v34M2182.6 3713h34M2199.6 3696v34M2215.6 3684h34M2232.6 3667v34" stroke="#ff0000" stroke-width="5" fill="none"/>
<path d="M1323 4460L1367.1 4445.4L1409.5 4431.3L1450.4 4417.7L1489.8 4404.5L1527.9 4391.8L1564.9 4379.4L1600.7 4367.4L1635.5 4355.8L1669.3 4344.4L1702.3 4333.4L1734.4 4322.6L1765.7 4312.1L1796.2 4301.8L1826.1 4291.8L1855.3 4282L1883.9 4272.4L1911.8 4263L1939.3 4253.7L1966.1 4244.7L1992.5 4235.8" stroke="#000000" stroke-width="2.3" fill="none" stroke-dasharray="18 12"/>
<path d="M1323 4443.5l16.5 16.5l-16.5 16.5l-16.5 -16.5zM1367.1 4428.9l16.5 16.5l-16.5 16.5l-16.5 -16.5zM1409.5 4414.8l16.5 16.5l-16.5 16.5l-16.5 -16.5zM1450.4 4401.2l16.5 16.5l-16.5 16.5l-16.5 -16.5zM1489.8 4388l16.5 16.5l-16.5 16.5l-16.5 -16.5zM1527.9 4375.3l16.5 16.5l-16.5 16.5l-16.5 -16.5zM1564.9 4362.9l16.5 16.5l-16.5 16.5l-16.5 -16.5zM1600.7 4350.9l16.5 16.5l-16.5 16.5l-16.5 -16.5zM1635.5 4339.3l16.5 16.5l-16.5 16.5l-16.5 -16.5zM1669.3 4327.9l16.5 16.5l-16.5 16.5l-16.5 -16.5zM1702.3 4316.9l16.5 16.5l-16.5 16.5l-16.5 -16.5zM1734.4 4306.1l16.5 16.5l-16.5 16.5l-16.5 -16.5zM1765.7 4295.6l16.5 16.5l-16.5 16.5l-16.5 -16.5zM1796.2 4285.3l16.5 16.5l-16.5 16.5l-16.5 -16.5zM1826.1 4275.3l16.5 16.5l-16.5 16.5l-16.5 -16.5zM1855.3 4265.5l16.5 16.5l-16.5 16.5l-16.5 -16.5zM1883.9 4255.9l16.5 16.5l-16.5 16.5l-16.5 -16.5zM1911.8 4246.5l16.5 16.5l-16.5 16.5l-16.5 -16.5zM1939.3 4237.2l16.5 16.5l-16.5 16.5l-16.5 -16.5zM1966.1 4228.2l16.5 16.5l-16.5 16.5l-16.5 -16.5zM1992.5 4219.3l16.5 16.5l-16.5 16.5l-16.5 -16.5z" fill="#000000"/>
<path d="M1323 4460L1367.1 4434.4L1409.5 4408.5L1450.4 4383L1489.8 4358L1527.9 4333.7L1564.9 4309.9L1600.7 4286.7L1635.5 4264.1L1669.3 4242L1702.3 4220.4L1734.4 4199.3L1765.7 4178.6L1796.2 4158.4L1826.1 4138.6L1855.3 4119.1L1883.9 4100.1L1911.8 4081.4L1939.3 4063.1L1966.1 4045L1992.5 4027.3" stroke="#0000ff" stroke-width="2.3" fill="none" stroke-dasharray="18 12"/>
<path d="M1323 4443.5l16.5 16.5l-16.5 16.5l-16.5 -16.5zM1367.1 4417.9l16.5 16.5l-16.5 16.5l-16.5 -16.5zM1409.5 4392l16.5 16.5l-16.5 16.5l-16.5 -16.5zM1450.4 4366.5l16.5 16.5l-16.5 16.5l-16.5 -16.5zM1489.8 4341.5l16.5 16.5l-16.5 16.5l-16.5 -16.5zM1527.9 4317.2l16.5 16.5l-16.5 16.5l-16.5 -16.5zM1564.9 4293.4l16.5 16.5l-16.5 16.5l-16.5 -16.5zM1600.7 4270.2l16.5 16.5l-16.5 16.5l-16.5 -16.5zM1635.5 4247.6l16.5 16.5l-16.5 16.5l-16.5 -16.5zM1669.3 4225.5l16.5 16.5l-16.5 16.5l-16.5 -16.5zM1702.3 4203.9l16.5 16.5l-16.5 16.5l-16.5 -16.5zM1734.4 4182.8l16.5 16.5l-16.5 16.5l-16.5 -16.5zM1765.7 4162.1l16.5 16.5l-16.5 16.5l-16.5 -16.5zM1796.2 4141.9l16.5 16.5l-16.5 16.5l-16.5 -16.5zM1826.1 4122.1l16.5 16.5l-16.5 16.5l-16.5 -16.5zM1855.3 4102.6l16.5 16.5l-16.5 16.5l-16.5 -16.5zM1883.9 4083.6l16.5 16.5l-16.5 16.5l-16.5 -16.5zM1911.8 4064.9l16.5 16.5l-16.5 16.5l-16.5 -16.5zM1939.3 4046.6l16.5 16.5l-16.5 16.5l-16.5 -16.5zM1966.1 4028.5l16.5 16.5l-16.5 16.5l-16.5 -16.5zM1992.5 4010.8l16.5 16.5l-16.5 16.5l-16.5 -16.5z" fill="#0000ff"/>
<path d="M1323 4460L1409.5 4379.4L1489.8 4302.5L1564.9 4229.9L1635.5 4161.2L1702.3 4095.9L1765.7 4033.7L1826.1 3974.3L1883.9 3917.3L1939.3 3862.6L1992.5 3809.9" stroke="#ff0000" stroke-width="2.3" fill="none" stroke-dasharray="18 12"/>
<path d="M1323 4443.5l16.5 16.5l-16.5 16.5l-16.5 -16.5zM1409.5 4362.9l16.5 16.5l-16.5 16.5l-16.5 -16.5zM1489.8 4286l16.5 16.5l-16.5 16.5l-16.5 -16.5zM1564.9 4213.4l16.5 16.5l-16.5 16.5l-16.5 -16.5zM1635.5 4144.7l16.5 16.5l-16.5 16.5l-16.5 -16.5zM1702.3 4079.4l16.5 16.5l-16.5 16.5l-16.5 -16.5zM1765.7 4017.2l16.5 16.5l-16.5 16.5l-16.5 -16.5zM1826.1 3957.8l16.5 16.5l-16.5 16.5l-16.5 -16.5zM1883.9 3900.8l16.5 16.5l-16.5 16.5l-16.5 -16.5zM1939.3 3846.1l16.5 16.5l-16.5 16.5l-16.5 -16.5zM1992.5 3793.4l16.5 16.5l-16.5 16.5l-16.5 -16.5z" fill="#ff0000"/>
<path d="M1323 4460L1346.6 4450.1L1369.7 4440.3L1392.3 4430.7L1414.4 4421.4L1436.1 4412.1L1457.3 4403.1L1478.2 4394.2L1498.6 4385.5L1518.7 4377L1538.4 4368.6L1557.7 4360.3L1576.8 4352.2L1595.5 4344.2L1613.9 4336.3L1632 4328.6L1649.9 4321L1667.4 4313.4L1684.8 4306L1701.8 4298.7L1718.6 4291.5" stroke="#000000" stroke-width="2.3" fill="none" stroke-dasharray="18 12"/>
<path d="M1309.5 4469.2h27L1323 4443.8zM1333.1 4459.3h27L1346.6 4433.8zM1356.2 4449.6h27L1369.7 4424.1zM1378.8 4440h27L1392.3 4414.5zM1400.9 4430.6h27L1414.4 4405.1zM1422.6 4421.4h27L1436.1 4395.9zM1443.8 4412.4h27L1457.3 4386.9zM1464.7 4403.5h27L1478.2 4378zM1485.1 4394.8h27L1498.6 4369.3zM1505.2 4386.2h27L1518.7 4360.7zM1524.9 4377.8h27L1538.4 4352.3zM1544.2 4369.6h27L1557.7 4344.1zM1563.3 4361.4h27L1576.8 4335.9zM1582 4353.4h27L1595.5 4327.9zM1600.4 4345.6h27L1613.9 4320.1zM1618.5 4337.8h27L1632 4312.3zM1636.4 4330.2h27L1649.9 4304.7zM1653.9 4322.7h27L1667.4 4297.2zM1671.3 4315.3h27L1684.8 4289.8zM1688.3 4308h27L1701.8 4282.5zM1705.1 4300.8h27L1718.6 4275.3z" fill="#000000"/>
<path d="M1323 4460L1346.6 4442.5L1369.7 4424.5L1392.3 4406.5L1414.4 4388.7L1436.1 4371L1457.3 4353.6L1478.2 4336.4L1498.6 4319.4L1518.7 4302.7L1538.4 4286.2L1557.7 4269.9L1576.8 4253.8L1595.5 4238L1613.9 4222.4L1632 4206.9L1649.9 4191.7L1667.4 4176.7L1684.8 4161.9L1701.8 4147.2L1718.6 4132.8" stroke="#0000ff" stroke-width="2.3" fill="none" stroke-dasharray="18 12"/>
<path d="M1309.5 4469.2h27L1323 4443.8zM1333.1 4451.8h27L1346.6 4426.3zM1356.2 4433.8h27L1369.7 4408.3zM1378.8 4415.8h27L1392.3 4390.3zM1400.9 4397.9h27L1414.4 4372.4zM1422.6 4380.3h27L1436.1 4354.8zM1443.8 4362.8h27L1457.3 4337.3zM1464.7 4345.6h27L1478.2 4320.1zM1485.1 4328.7h27L1498.6 4303.2zM1505.2 4311.9h27L1518.7 4286.4zM1524.9 4295.4h27L1538.4 4269.9zM1544.2 4279.1h27L1557.7 4253.6zM1563.3 4263.1h27L1576.8 4237.6zM1582 4247.2h27L1595.5 4221.7zM1600.4 4231.6h27L1613.9 4206.1zM1618.5 4216.2h27L1632 4190.7zM1636.4 4201h27L1649.9 4175.5zM1653.9 4186h27L1667.4 4160.5zM1671.3 4171.1h27L1684.8 4145.6zM1688.3 4156.5h27L1701.8 4131zM1705.1 4142h27L1718.6 4116.5z" fill="#0000ff"/>
<path d="M1323 4460L1346.6 4433.8L1369.7 4408.1L1392.3 4383L1414.4 4358.5L1436.1 4334.4L1457.3 4310.8L1478.2 4287.7L1498.6 4265L1518.7 4242.8L1538.4 4220.9L1557.7 4199.4L1576.8 4178.2L1595.5 4157.5L1613.9 4137L1632 4116.9L1649.9 4097.1L1667.4 4077.6L1684.8 4058.3L1701.8 4039.4L1718.6 4020.7" stroke="#ff0000" stroke-width="2.3" fill="none" stroke-dasharray="18 12"/>
<path d="M1309.5 4469.2h27L1323 4443.8zM1333.1 4443h27L1346.6 4417.5zM1356.2 4417.4h27L1369.7 4391.9zM1378.8 4392.3h27L1392.3 4366.8zM1400.9 4367.7h27L1414.4 4342.2zM1422.6 4343.7h27L1436.1 4318.2zM1443.8 4320.1h27L1457.3 4294.6zM1464.7 4297h27L1478.2 4271.5zM1485.1 4274.3h27L1498.6 4248.8zM1505.2 4252h27L1518.7 4226.5zM1524.9 4230.1h27L1538.4 4204.6zM1544.2 4208.6h27L1557.7 4183.1zM1563.3 4187.5h27L1576.8 4162zM1582 4166.7h27L1595.5 4141.2zM1600.4 4146.3h27L1613.9 4120.8zM1618.5 4126.1h27L1632 4100.6zM1636.4 4106.3h27L1649.9 4080.8zM1653.9 4086.8h27L1667.4 4061.3zM1671.3 4067.6h27L1684.8 4042.1zM1688.3 4048.6h27L1701.8 4023.1zM1705.1 4030h27L1718.6 4004.5z" fill="#ff0000"/>
<rect x="759.2" y="677.6" width="221.1" height="215.7" fill="#fff" stroke="#000" stroke-width="1.8"/>
<path d="M785.9 723.9h31L801.4 698.9z" fill="#ff0000"/>
<path d="M800.5 763.5l15.5 15.5l-15.5 15.5l-15.5 -15.5z" fill="#0000ff"/>
<path d="M783.7 843h32M799.7 827v32" stroke="#000" stroke-width="8.5" fill="none"/>
<text class="gr" style="font-size:38px" transform="translate(829.5 729) scale(1.3 1)">&#951;</text>
<text class="lg" transform="translate(862.2 729) scale(1.13 1)">=</text>
<text class="lg" x="891" y="729" letter-spacing="0.7">0.33</text>
<text class="gr" style="font-size:38px" transform="translate(826.5 788) scale(1.3 1)">&#951;</text>
<text class="lg" transform="translate(861.2 788) scale(1.13 1)">=</text>
<text class="lg" x="889.6" y="788" letter-spacing="0.7">0.6</text>
<text class="gr" style="font-size:38px" transform="translate(826.5 852.3) scale(1.3 1)">&#951;</text>
<text class="lg" transform="translate(860.2 852.3) scale(1.13 1)">=</text>
<text class="lg" x="889" y="852.3" letter-spacing="0.7">1</text>
<rect x="1899.6" y="691.8" width="268.9" height="185.4" fill="#fff" stroke="#000" stroke-width="1.8"/>
<path d="M1929.2 723.3h32M1945.2 707.3v32" stroke="#000" stroke-width="8.5" fill="none"/>
<path d="M1946 761.6l15.5 15.5l-15.5 15.5l-15.5 -15.5z" fill="#0000ff"/>
<path d="M1928.3 846.7h31L1943.8 821.7z" fill="#ff0000"/>
<text class="lg" x="1981.3" y="735.9" letter-spacing="0.8">NiTi/Si</text>
<text class="lg" x="1977.2" y="790.4" letter-spacing="0.5">NiTi/SiO<tspan font-size="23" dy="8">2</tspan></text>
<text class="lg" x="1978.5" y="845.9" letter-spacing="0.3">NiTi/Si<tspan font-size="23" dy="8">3</tspan><tspan dy="-8">N</tspan><tspan font-size="23" dy="8">4</tspan></text>
<rect x="225.4" y="1271.4" width="527.4" height="242.2" fill="#fff" stroke="#000" stroke-width="1.8"/>
<path d="M240.6 1308.3H271.5" stroke="#000" stroke-width="3"/>
<path d="M240.6 1364.6H271.5" stroke="#0000ff" stroke-width="3"/>
<path d="M240.6 1423.6H271.5" stroke="#ff0000" stroke-width="3"/>
<text class="lg lg2" x="301.6" y="1316.1">First mode</text>
<text class="lg lg2" x="298.4" y="1377">Second mode</text>
<text class="lg lg2" x="295.6" y="1433.8">Third mode</text>
<path d="M545.7 1306h32M561.7 1290v32" stroke="#000" stroke-width="8.5" fill="none"/>
<text class="lg lg2" x="595.5" y="1316">200/200</text>
<path d="M558.7 1348.5l15.5 15.5l-15.5 15.5l-15.5 -15.5z" fill="#000"/>
<text class="lg lg2" x="592.3" y="1377">150/250</text>
<path d="M543.7 1437.7h31L559.2 1412.7z" fill="#000"/>
<text class="lg lg2" x="593.7" y="1433.8">100/300</text>
<text class="gr" style="font-size:44px" transform="translate(405 1504.8) scale(1.22 1)">&#963;</text>
<text class="lg" style="font-size:37.5px" transform="translate(444.5 1504.8) scale(1.2 1)">=</text>
<text class="lg" x="482.5" y="1504.8" style="font-size:37.5px">100MPa</text>
<rect x="225.4" y="3607.7" width="527.4" height="243.6" fill="#fff" stroke="#000" stroke-width="1.8"/>
<path d="M240.6 3644.6H271.5" stroke="#000" stroke-width="3"/>
<path d="M240.6 3700.9H271.5" stroke="#0000ff" stroke-width="3"/>
<path d="M240.6 3759.9H271.5" stroke="#ff0000" stroke-width="3"/>
<text class="lg lg2" x="301.6" y="3652.4">First mode</text>
<text class="lg lg2" x="298.4" y="3713.3">Second mode</text>
<text class="lg lg2" x="295.6" y="3770.1">Third mode</text>
<path d="M545.7 3642.3h32M561.7 3626.3v32" stroke="#000" stroke-width="8.5" fill="none"/>
<text class="lg lg2" x="595.5" y="3652.3">200/200</text>
<path d="M558.7 3684.8l15.5 15.5l-15.5 15.5l-15.5 -15.5z" fill="#000"/>
<text class="lg lg2" x="592.3" y="3713.3">150/250</text>
<path d="M543.7 3774h31L559.2 3749z" fill="#000"/>
<text class="lg lg2" x="593.7" y="3770.1">100/300</text>
<text class="gr" style="font-size:44px" transform="translate(405 3841.1) scale(1.22 1)">&#963;</text>
<text class="lg" style="font-size:37.5px" transform="translate(444.5 3841.1) scale(1.2 1)">=</text>
<text class="lg" x="482.5" y="3841.1" style="font-size:37.5px">100MPa</text>
<rect x="1386.1" y="1251.7" width="525.1" height="244.5" fill="#fff" stroke="#000" stroke-width="1.8"/>
<path d="M1400.1 1289.8H1431" stroke="#000" stroke-width="3"/>
<path d="M1400.1 1346.1H1431" stroke="#0000ff" stroke-width="3"/>
<path d="M1400.1 1405.1H1431" stroke="#ff0000" stroke-width="3"/>
<text class="lg lg2" x="1461.1" y="1297.6">First mode</text>
<text class="lg lg2" x="1457.9" y="1358.5">Second mode</text>
<text class="lg lg2" x="1455.1" y="1415.3">Third mode</text>
<path d="M1705.2 1287.5h32M1721.2 1271.5v32" stroke="#000" stroke-width="8.5" fill="none"/>
<text class="lg lg2" x="1755" y="1300">200/200</text>
<path d="M1718.2 1330l15.5 15.5l-15.5 15.5l-15.5 -15.5z" fill="#000"/>
<text class="lg lg2" x="1751.8" y="1358.5">150/250</text>
<path d="M1703.2 1419.2h31L1718.7 1394.2z" fill="#000"/>
<text class="lg lg2" x="1753.2" y="1418.8">100/300</text>
<text class="gr" style="font-size:44px" transform="translate(1564.5 1486.3) scale(1.22 1)">&#963;</text>
<text class="lg" style="font-size:37.5px" transform="translate(1604 1486.3) scale(1.2 1)">=</text>
<text class="lg" x="1642" y="1486.3" style="font-size:37.5px">500MPa</text>
<rect x="1372.9" y="3596" width="525.6" height="244.5" fill="#fff" stroke="#000" stroke-width="1.8"/>
<path d="M1386.9 3634.1H1417.8" stroke="#000" stroke-width="3"/>
<path d="M1386.9 3690.4H1417.8" stroke="#0000ff" stroke-width="3"/>
<path d="M1386.9 3749.4H1417.8" stroke="#ff0000" stroke-width="3"/>
<text class="lg lg2" x="1447.9" y="3641.9">First mode</text>
<text class="lg lg2" x="1444.7" y="3702.8">Second mode</text>
<text class="lg lg2" x="1441.9" y="3759.6">Third mode</text>
<path d="M1692 3631.8h32M1708 3615.8v32" stroke="#000" stroke-width="8.5" fill="none"/>
<text class="lg lg2" x="1741.8" y="3644.3">200/200</text>
<path d="M1705 3674.3l15.5 15.5l-15.5 15.5l-15.5 -15.5z" fill="#000"/>
<text class="lg lg2" x="1738.6" y="3702.8">150/250</text>
<path d="M1690 3763.5h31L1705.5 3738.5z" fill="#000"/>
<text class="lg lg2" x="1740" y="3763.1">100/300</text>
<text class="gr" style="font-size:44px" transform="translate(1551.3 3830.6) scale(1.22 1)">&#963;</text>
<text class="lg" style="font-size:37.5px" transform="translate(1590.8 3830.6) scale(1.2 1)">=</text>
<text class="lg" x="1628.8" y="3830.6" style="font-size:37.5px">500MPa</text>
<rect x="225.4" y="2440" width="527.4" height="241.3" fill="#fff" stroke="#000" stroke-width="1.8"/>
<path d="M240.6 2476.9H271.5" stroke="#000" stroke-width="3"/>
<path d="M240.6 2533.2H271.5" stroke="#0000ff" stroke-width="3"/>
<path d="M240.6 2592.2H271.5" stroke="#ff0000" stroke-width="3"/>
<text class="lg lg2" x="301.6" y="2484.7">First mode</text>
<text class="lg lg2" x="298.4" y="2545.6">Second mode</text>
<text class="lg lg2" x="295.6" y="2602.4">Third mode</text>
<path d="M562.2 2459.1l15.5 15.5l-15.5 15.5l-15.5 -15.5z" fill="#000"/>
<text class="lg lg2" x="592.3" y="2484.6">NiTi/SiO<tspan font-size="23" dy="8">2</tspan></text>
<path d="M546.2 2535.5h32M562.2 2519.5v32" stroke="#000" stroke-width="8.5" fill="none"/>
<text class="lg lg2" x="595.5" y="2545.6">NiTi/Si</text>
<path d="M543.7 2605.6h31L559.2 2580.6z" fill="#000"/>
<text class="lg lg2" x="592.3" y="2602.4">NiTi/Si<tspan font-size="23" dy="8">3</tspan><tspan dy="-8">N</tspan><tspan font-size="23" dy="8">4</tspan></text>
<text class="gr" style="font-size:44px" transform="translate(405 2673.4) scale(1.22 1)">&#963;</text>
<text class="lg" style="font-size:37.5px" transform="translate(444.5 2673.4) scale(1.2 1)">=</text>
<text class="lg" x="482.5" y="2673.4" style="font-size:37.5px">100MPa</text>
<rect x="1403.2" y="2440" width="527.4" height="241.3" fill="#fff" stroke="#000" stroke-width="1.8"/>
<path d="M1418.4 2476.9H1449.3" stroke="#000" stroke-width="3"/>
<path d="M1418.4 2533.2H1449.3" stroke="#0000ff" stroke-width="3"/>
<path d="M1418.4 2592.2H1449.3" stroke="#ff0000" stroke-width="3"/>
<text class="lg lg2" x="1479.4" y="2484.7">First mode</text>
<text class="lg lg2" x="1476.2" y="2545.6">Second mode</text>
<text class="lg lg2" x="1473.4" y="2602.4">Third mode</text>
<path d="M1740 2459.1l15.5 15.5l-15.5 15.5l-15.5 -15.5z" fill="#000"/>
<text class="lg lg2" x="1770.1" y="2484.6">NiTi/SiO<tspan font-size="23" dy="8">2</tspan></text>
<path d="M1724 2535.5h32M1740 2519.5v32" stroke="#000" stroke-width="8.5" fill="none"/>
<text class="lg lg2" x="1773.3" y="2545.6">NiTi/Si</text>
<path d="M1721.5 2605.6h31L1737 2580.6z" fill="#000"/>
<text class="lg lg2" x="1770.1" y="2602.4">NiTi/Si<tspan font-size="23" dy="8">3</tspan><tspan dy="-8">N</tspan><tspan font-size="23" dy="8">4</tspan></text>
<text class="gr" style="font-size:44px" transform="translate(1582.8 2673.4) scale(1.22 1)">&#963;</text>
<text class="lg" style="font-size:37.5px" transform="translate(1622.3 2673.4) scale(1.2 1)">=</text>
<text class="lg" x="1660.3" y="2673.4" style="font-size:37.5px">500MPa</text>
</svg></body></html>
